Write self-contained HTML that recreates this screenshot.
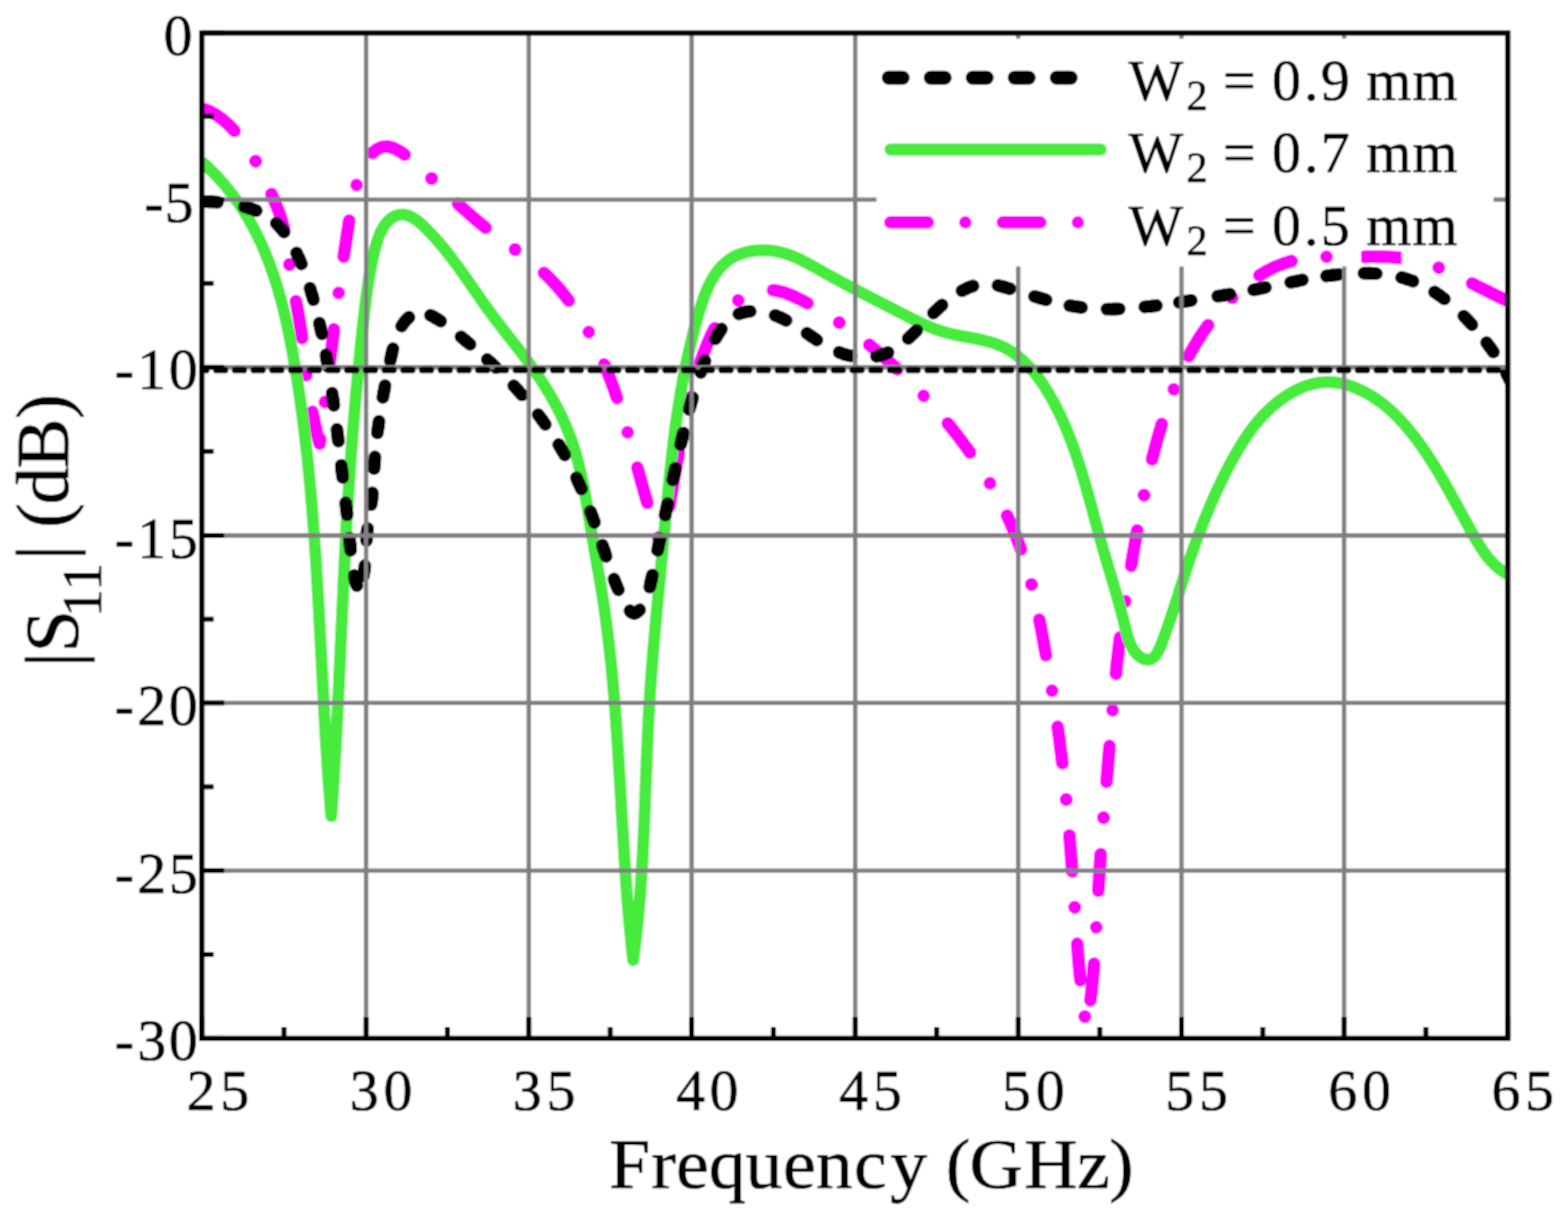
<!DOCTYPE html>
<html lang="en"><head><meta charset="utf-8"><title>|S11| versus frequency for different W2</title>
<style>html,body,main,figure{margin:0;padding:0;background:#fff;}html,body{overflow:hidden;width:1566px;height:1218px;}svg{display:block;}text{font-family:'Liberation Serif', serif;fill:#000;stroke:#000;stroke-width:0.6px;stroke-linejoin:round;text-rendering:geometricPrecision;}</style></head><body>
<main><figure>
<svg width="1566" height="1218" viewBox="0 0 1566 1218" role="img" aria-label="Simulated |S11| in dB versus frequency in GHz for W2 = 0.9, 0.7 and 0.5 mm">
<rect width="1566" height="1218" fill="#fff"/>
<filter id="soft" x="0" y="0" width="1566" height="1218" filterUnits="userSpaceOnUse"><feConvolveMatrix order="3" kernelMatrix="1 2 1 2 4 2 1 2 1" divisor="16" edgeMode="duplicate" preserveAlpha="true"/></filter>
<g filter="url(#soft)">
<rect width="1566" height="1218" fill="#fff"/>
<clipPath id="pc"><rect x="201.8" y="33.0" width="1306.0" height="1005.4"/></clipPath>
<g clip-path="url(#pc)" fill="none" stroke-linecap="round" stroke-linejoin="round">
<path d="M255.6 161.1 L254.6 159.4 L253.6 157.7 L252.6 155.9 L251.5 154.2 L250.5 152.5 L249.4 150.8 L248.4 149.2 L247.3 147.5 L246.1 145.8 L245.0 144.2 L243.9 142.6 L242.7 141.0 L241.5 139.4 L240.3 137.8 L239.0 136.2 L237.8 134.7 L236.5 133.2 L235.2 131.7 L233.8 130.2 L232.5 128.7 L231.1 127.3 L229.7 125.8 L228.2 124.4 L226.8 123.1 L225.3 121.8 L223.7 120.5 L222.2 119.2 L220.6 118.0 L219.0 116.8 L217.4 115.7 L215.7 114.6 L214.0 113.6 L212.3 112.7 L210.5 111.7 L208.8 110.9 L206.9 110.1 L205.1 109.4 L203.2 108.7" stroke="#ff00ff" stroke-width="12.9" stroke-dasharray="0.01 36.99 37.00 36.99" stroke-dashoffset="0.00"/>
<path d="M255.6 161.1 L256.5 162.9 L257.5 164.7 L258.4 166.4 L259.3 168.2 L260.2 170.0 L261.1 171.8 L262.0 173.6 L262.9 175.4 L263.8 177.2 L264.7 179.0 L265.5 180.8 L266.4 182.6 L267.2 184.5 L268.0 186.3 L268.8 188.1 L269.7 190.0 L270.5 191.8 L271.3 193.6 L272.1 195.5 L272.9 197.3 L273.7 199.1 L274.5 201.0 L275.2 202.8 L276.0 204.7 L276.8 206.5 L277.5 208.4 L278.2 210.2 L278.9 212.1 L279.6 214.0 L280.2 215.8 L280.9 217.7 L281.5 219.6 L282.1 221.5 L282.6 223.4 L283.2 225.3 L283.7 227.2 L284.1 229.1 L284.6 231.0 L285.0 233.0 L285.3 234.9 L285.7 236.8 L286.0 238.8 L286.3 240.8 L286.6 242.7 L286.9 244.7 L287.2 246.7 L287.4 248.6 L287.7 250.6 L287.9 252.6 L288.2 254.6 L288.4 256.6 L288.7 258.5 L288.9 260.5 L289.2 262.5 L289.5 264.5" stroke="#ff00ff" stroke-width="12.9" stroke-dasharray="0.01 36.56 36.56 36.56" stroke-dashoffset="0.00"/>
<path d="M289.5 264.5 L289.7 266.5 L290.0 268.4 L290.3 270.4 L290.7 272.4 L291.0 274.4 L291.3 276.3 L291.7 278.3 L292.0 280.3 L292.4 282.2 L292.7 284.2 L293.1 286.2 L293.5 288.1 L293.9 290.1 L294.2 292.0 L294.6 294.0 L295.0 296.0 L295.4 297.9 L295.7 299.9 L296.1 301.9 L296.5 303.8 L296.8 305.8 L297.2 307.7 L297.6 309.7 L297.9 311.7 L298.3 313.6 L298.6 315.6 L299.0 317.6 L299.3 319.5 L299.6 321.5 L300.0 323.5 L300.3 325.4 L300.6 327.4 L300.9 329.4 L301.2 331.3 L301.5 333.3 L301.8 335.3 L302.0 337.3 L302.3 339.2 L302.5 341.2 L302.8 343.2 L303.0 345.2 L303.2 347.2 L303.5 349.2 L303.7 351.1 L303.9 353.1 L304.1 355.1 L304.3 357.1 L304.5 359.1 L304.7 361.1 L305.0 363.1 L305.2 365.0 L305.4 367.0 L305.6 369.0 L305.8 371.0 L306.1 373.0 L306.3 374.9" stroke="#ff00ff" stroke-width="12.9" stroke-dasharray="0.01 37.27 37.27 37.27" stroke-dashoffset="0.00"/>
<path d="M306.3 375.0 L306.6 376.9 L306.8 378.9 L307.1 380.9 L307.4 382.9 L307.6 384.9 L307.9 386.8 L308.2 388.8 L308.5 390.8 L308.8 392.8 L309.2 394.7 L309.5 396.7 L309.8 398.7 L310.2 400.6 L310.5 402.6 L310.9 404.6 L311.2 406.5 L311.6 408.5 L312.0 410.4 L312.4 412.4 L312.8 414.3 L313.2 416.3 L313.6 418.3 L314.0 420.2 L314.4 422.2 L314.9 424.1 L315.3 426.0 L315.7 428.0 L316.2 429.9 L316.7 431.9 L317.1 433.8 L317.6 435.8 L318.1 437.7 L318.6 439.6 L319.1 441.6 L319.6 443.5 L319.9 441.5 L320.1 439.6 L320.4 437.6 L320.6 435.6 L320.9 433.6 L321.1 431.7 L321.4 429.7 L321.6 427.7 L321.9 425.7 L322.2 423.7 L322.4 421.8 L322.7 419.8 L322.9 417.8 L323.2 415.8 L323.4 413.9 L323.7 411.9 L323.9 409.9 L324.2 407.9 L324.4 405.9 L324.6 404.0 L324.9 402.0" stroke="#ff00ff" stroke-width="12.9" stroke-dasharray="0.01 37.23 37.24 37.23" stroke-dashoffset="0.00"/>
<path d="M324.9 402.0 L325.1 400.0 L325.4 398.0 L325.6 396.0 L325.9 394.1 L326.1 392.1 L326.4 390.1 L326.6 388.1 L326.9 386.1 L327.1 384.1 L327.4 382.2 L327.6 380.2 L327.8 378.2 L328.1 376.2 L328.3 374.2 L328.6 372.2 L328.8 370.3 L329.1 368.3 L329.3 366.3 L329.6 364.3 L329.8 362.3 L330.0 360.3 L330.3 358.4 L330.5 356.4 L330.8 354.4 L331.0 352.4 L331.3 350.4 L331.5 348.4 L331.8 346.5 L332.0 344.5 L332.3 342.5 L332.5 340.5 L332.8 338.5 L333.0 336.5 L333.3 334.6 L333.5 332.6 L333.8 330.6 L334.0 328.6 L334.3 326.6 L334.5 324.6 L334.8 322.7 L335.0 320.7 L335.3 318.7 L335.5 316.7 L335.8 314.7 L336.0 312.8 L336.3 310.8 L336.6 308.8 L336.8 306.8 L337.1 304.8 L337.3 302.8 L337.6 300.9 L337.8 298.9 L338.1 296.9 L338.4 294.9 L338.6 293.0" stroke="#ff00ff" stroke-width="12.9" stroke-dasharray="0.01 36.63 36.63 36.63" stroke-dashoffset="0.00"/>
<path d="M338.6 292.9 L338.9 291.0 L339.2 289.0 L339.4 287.0 L339.7 285.0 L340.0 283.1 L340.2 281.1 L340.5 279.1 L340.8 277.1 L341.1 275.1 L341.3 273.2 L341.6 271.2 L341.9 269.2 L342.2 267.2 L342.4 265.3 L342.7 263.3 L343.0 261.3 L343.3 259.4 L343.6 257.4 L343.8 255.4 L344.1 253.4 L344.4 251.5 L344.7 249.5 L345.0 247.5 L345.3 245.6 L345.6 243.6 L345.9 241.6 L346.2 239.7 L346.5 237.7 L346.8 235.7 L347.1 233.8 L347.4 231.8 L347.7 229.8 L348.0 227.9 L348.3 225.9 L348.6 223.9 L348.9 222.0 L349.2 220.0 L349.6 218.1 L349.9 216.1 L350.2 214.1 L350.5 212.2 L350.9 210.2 L351.2 208.3 L351.6 206.3 L351.9 204.4 L352.3 202.4 L352.7 200.5 L353.1 198.5 L353.6 196.6 L354.0 194.6 L354.5 192.7 L355.0 190.8 L355.5 188.8 L356.0 186.9 L356.6 185.0" stroke="#ff00ff" stroke-width="12.9" stroke-dasharray="0.01 36.51 36.51 36.51" stroke-dashoffset="0.00"/>
<path d="M356.6 185.0 L357.2 183.0 L357.8 181.1 L358.4 179.2 L359.1 177.3 L359.8 175.4 L360.6 173.5 L361.4 171.6 L362.2 169.7 L363.0 167.8 L363.9 165.9 L364.9 164.0 L365.8 162.1 L366.9 160.3 L368.0 158.6 L369.2 156.9 L370.4 155.2 L371.7 153.7 L373.1 152.3 L374.6 151.0 L376.2 149.8 L377.8 148.8 L379.5 148.0 L381.2 147.3 L382.9 146.8 L384.7 146.6 L386.5 146.5 L388.3 146.7 L390.1 147.0 L392.0 147.6 L393.8 148.2 L395.6 149.0 L397.4 149.9 L399.2 151.0 L400.9 152.0 L402.7 153.2 L404.4 154.4 L406.1 155.6 L407.7 156.8 L409.4 158.1 L411.0 159.3 L412.5 160.6 L414.1 161.9 L415.6 163.3 L417.1 164.6 L418.6 165.9 L420.1 167.3 L421.6 168.7 L423.0 170.0 L424.5 171.4 L425.9 172.8 L427.4 174.2 L428.8 175.6 L430.2 177.0 L431.6 178.4" stroke="#ff00ff" stroke-width="12.9" stroke-dasharray="0.01 36.02 36.02 36.02" stroke-dashoffset="0.00"/>
<path d="M431.6 178.4 L433.0 179.8 L434.4 181.2 L435.9 182.6 L437.3 184.0 L438.7 185.4 L440.1 186.8 L441.5 188.2 L443.0 189.5 L444.4 190.9 L445.8 192.3 L447.2 193.7 L448.7 195.1 L450.1 196.4 L451.6 197.8 L453.0 199.2 L454.4 200.5 L455.9 201.9 L457.4 203.2 L458.8 204.6 L460.3 205.9 L461.7 207.2 L463.2 208.6 L464.7 209.9 L466.2 211.2 L467.7 212.5 L469.2 213.9 L470.7 215.2 L472.2 216.5 L473.7 217.8 L475.2 219.0 L476.7 220.3 L478.2 221.6 L479.8 222.9 L481.3 224.1 L482.9 225.4 L484.4 226.6 L486.0 227.9 L487.6 229.1 L489.2 230.3 L490.8 231.6 L492.4 232.8 L494.0 234.0 L495.6 235.2 L497.2 236.4 L498.8 237.6 L500.4 238.8 L502.1 240.0 L503.7 241.2 L505.3 242.3 L506.9 243.5 L508.6 244.7 L510.2 245.9 L511.8 247.1 L513.5 248.3 L515.1 249.5" stroke="#ff00ff" stroke-width="12.9" stroke-dasharray="0.01 36.59 36.60 36.59" stroke-dashoffset="0.00"/>
<path d="M515.1 249.5 L516.7 250.7 L518.3 251.9 L519.9 253.1 L521.5 254.3 L523.1 255.5 L524.7 256.7 L526.3 258.0 L527.9 259.2 L529.5 260.5 L531.0 261.7 L532.6 263.0 L534.1 264.2 L535.7 265.5 L537.2 266.8 L538.7 268.1 L540.2 269.4 L541.7 270.8 L543.1 272.1 L544.6 273.5 L546.0 274.8 L547.5 276.2 L548.9 277.6 L550.3 279.0 L551.6 280.5 L553.0 281.9 L554.4 283.4 L555.7 284.8 L557.0 286.3 L558.3 287.8 L559.6 289.3 L560.9 290.8 L562.2 292.3 L563.4 293.9 L564.7 295.4 L565.9 297.0 L567.1 298.5 L568.3 300.1 L569.5 301.7 L570.7 303.3 L571.8 304.9 L573.0 306.6 L574.1 308.2 L575.2 309.8 L576.4 311.5 L577.5 313.2 L578.5 314.8 L579.6 316.5 L580.7 318.2 L581.7 319.9 L582.8 321.6 L583.8 323.3 L584.8 325.0 L585.8 326.8 L586.8 328.5 L587.8 330.2 L588.7 332.0" stroke="#ff00ff" stroke-width="12.9" stroke-dasharray="0.01 37.21 37.22 37.21" stroke-dashoffset="0.00"/>
<path d="M588.7 332.0 L589.7 333.7 L590.6 335.5 L591.6 337.3 L592.5 339.0 L593.4 340.8 L594.3 342.6 L595.2 344.4 L596.1 346.2 L597.0 348.0 L597.8 349.8 L598.7 351.6 L599.5 353.4 L600.3 355.3 L601.2 357.1 L602.0 358.9 L602.8 360.8 L603.6 362.6 L604.3 364.4 L605.1 366.3 L605.9 368.1 L606.6 370.0 L607.4 371.8 L608.1 373.7 L608.8 375.5 L609.6 377.4 L610.3 379.3 L611.0 381.1 L611.7 383.0 L612.4 384.9 L613.0 386.7 L613.7 388.6 L614.4 390.5 L615.0 392.4 L615.7 394.3 L616.3 396.2 L617.0 398.0 L617.6 399.9 L618.2 401.8 L618.8 403.7 L619.5 405.6 L620.1 407.5 L620.7 409.4 L621.3 411.3 L621.9 413.2 L622.5 415.1 L623.0 417.0 L623.6 419.0 L624.2 420.9 L624.8 422.8 L625.3 424.7 L625.9 426.6 L626.5 428.5 L627.0 430.4 L627.6 432.3" stroke="#ff00ff" stroke-width="12.9" stroke-dasharray="0.01 35.94 35.95 35.94" stroke-dashoffset="0.00"/>
<path d="M627.6 432.3 L628.1 434.3 L628.7 436.2 L629.2 438.1 L629.8 440.0 L630.3 442.0 L630.8 443.9 L631.4 445.8 L631.9 447.7 L632.5 449.6 L633.0 451.6 L633.5 453.5 L634.0 455.4 L634.6 457.3 L635.1 459.3 L635.6 461.2 L636.2 463.1 L636.7 465.1 L637.2 467.0 L637.7 468.9 L638.3 470.8 L638.8 472.8 L639.3 474.7 L639.9 476.6 L640.4 478.5 L640.9 480.5 L641.5 482.4 L642.0 484.3 L642.5 486.2 L643.1 488.2 L643.6 490.1 L644.2 492.0 L644.7 493.9 L645.3 495.8 L645.8 497.8 L646.4 499.7 L646.9 501.6 L647.5 503.5 L648.1 505.4 L648.6 507.3 L649.2 509.3 L649.8 511.2 L650.4 513.1 L651.0 515.0 L651.5 516.9 L652.1 518.8 L652.7 520.7 L653.4 522.6 L654.0 524.5 L654.6 526.4 L655.2 528.3 L655.8 530.2 L656.5 532.1 L657.1 534.0 L657.8 535.9 L658.4 537.7" stroke="#ff00ff" stroke-width="12.9" stroke-dasharray="0.01 36.61 36.61 36.61" stroke-dashoffset="0.00"/>
<path d="M658.4 537.7 L659.1 539.6 L659.7 541.5 L660.4 543.4 L661.1 545.3 L661.8 547.1 L662.5 549.0 L662.8 547.0 L663.1 545.1 L663.4 543.1 L663.7 541.1 L664.1 539.1 L664.4 537.2 L664.7 535.2 L665.0 533.2 L665.3 531.3 L665.6 529.3 L665.9 527.3 L666.3 525.3 L666.6 523.4 L666.9 521.4 L667.2 519.4 L667.5 517.4 L667.9 515.5 L668.2 513.5 L668.5 511.5 L668.8 509.5 L669.1 507.6 L669.5 505.6 L669.8 503.6 L670.1 501.6 L670.4 499.7 L670.8 497.7 L671.1 495.7 L671.4 493.7 L671.8 491.8 L672.1 489.8 L672.4 487.8 L672.8 485.9 L673.1 483.9 L673.5 481.9 L673.8 479.9 L674.1 478.0 L674.5 476.0 L674.8 474.0 L675.2 472.1 L675.5 470.1 L675.9 468.1 L676.2 466.1 L676.6 464.2 L676.9 462.2 L677.3 460.2 L677.7 458.3 L678.0 456.3 L678.4 454.3 L678.7 452.4 L679.1 450.4 L679.5 448.4 L679.9 446.5 L680.2 444.5 L680.6 442.5 L681.0 440.6 L681.4 438.6 L681.8 436.7 L682.1 434.7 L682.5 432.7 L682.9 430.8 L683.3 428.8 L683.7 426.9 L684.1 424.9 L684.5 423.0 L684.9 421.0 L685.3 419.0 L685.8 417.1 L686.2 415.1 L686.6 413.2 L687.0 411.2 L687.5 409.3 L687.9 407.3 L688.3 405.4 L688.8 403.5 L689.3 401.5 L689.7 399.6 L690.2 397.7" stroke="#ff00ff" stroke-width="12.9" stroke-dasharray="0.01 55.29 55.30 55.29" stroke-dashoffset="0.00"/>
<path d="M690.2 397.6 L690.7 395.7 L691.2 393.8 L691.6 391.8 L692.1 389.9 L692.7 388.0 L693.2 386.1 L693.7 384.1 L694.2 382.2 L694.8 380.3 L695.3 378.4 L695.9 376.5 L696.5 374.6 L697.0 372.7 L697.6 370.7 L698.2 368.8 L698.8 366.9 L699.5 365.0 L700.1 363.2 L700.7 361.3 L701.4 359.4 L702.1 357.5 L702.7 355.6 L703.4 353.7 L704.1 351.9 L704.9 350.0 L705.6 348.1 L706.3 346.3 L707.1 344.4 L707.9 342.5 L708.7 340.7 L709.5 338.8 L710.3 337.0 L711.1 335.2 L712.0 333.4 L712.9 331.6 L713.8 329.8 L714.8 328.0 L715.8 326.2 L716.8 324.5 L717.8 322.8 L718.9 321.1 L720.0 319.4 L721.2 317.7 L722.3 316.1 L723.6 314.5 L724.9 312.9 L726.2 311.4 L727.6 309.8 L729.0 308.4 L730.4 306.9 L731.9 305.5 L733.4 304.1 L735.0 302.8 L736.6 301.5 L738.2 300.3" stroke="#ff00ff" stroke-width="12.9" stroke-dasharray="0.01 36.88 36.88 36.88" stroke-dashoffset="0.00"/>
<path d="M738.2 300.3 L739.9 299.1 L741.6 298.0 L743.3 296.9 L745.1 296.0 L746.8 295.0 L748.6 294.2 L750.5 293.4 L752.3 292.7 L754.1 292.0 L756.0 291.5 L757.9 291.0 L759.8 290.6 L761.6 290.3 L763.5 290.1 L765.4 289.9 L767.3 289.8 L769.2 289.9 L771.1 290.0 L773.0 290.1 L774.9 290.4 L776.8 290.7 L778.7 291.1 L780.6 291.5 L782.4 292.1 L784.3 292.6 L786.2 293.2 L788.0 293.9 L789.9 294.6 L791.7 295.4 L793.6 296.2 L795.4 297.0 L797.2 297.9 L799.1 298.8 L800.9 299.7 L802.7 300.6 L804.5 301.6 L806.3 302.6 L808.1 303.5 L809.9 304.5 L811.7 305.5 L813.4 306.5 L815.2 307.5 L817.0 308.6 L818.7 309.6 L820.4 310.6 L822.2 311.7 L823.9 312.7 L825.6 313.8 L827.4 314.9 L829.1 315.9 L830.8 317.0 L832.5 318.1 L834.2 319.2 L835.8 320.3 L837.5 321.4 L839.2 322.5" stroke="#ff00ff" stroke-width="12.9" stroke-dasharray="0.01 37.12 37.12 37.12" stroke-dashoffset="0.00"/>
<path d="M839.2 322.6 L840.9 323.7 L842.5 324.8 L844.2 326.0 L845.8 327.1 L847.5 328.3 L849.1 329.4 L850.7 330.6 L852.3 331.8 L854.0 333.0 L855.6 334.2 L857.2 335.4 L858.8 336.6 L860.4 337.8 L862.0 339.0 L863.5 340.2 L865.1 341.5 L866.7 342.7 L868.2 344.0 L869.8 345.2 L871.3 346.5 L872.9 347.8 L874.4 349.0 L876.0 350.3 L877.5 351.6 L879.0 352.9 L880.5 354.2 L882.0 355.5 L883.5 356.8 L885.0 358.1 L886.5 359.4 L888.0 360.8 L889.5 362.1 L891.0 363.4 L892.5 364.8 L893.9 366.1 L895.4 367.5 L896.9 368.9 L898.3 370.2 L899.8 371.6 L901.2 373.0 L902.6 374.4 L904.1 375.8 L905.5 377.2 L906.9 378.6 L908.3 380.0 L909.7 381.4 L911.2 382.8 L912.6 384.2 L914.0 385.6 L915.4 387.1 L916.7 388.5 L918.1 390.0 L919.5 391.4 L920.9 392.9 L922.3 394.3 L923.6 395.8" stroke="#ff00ff" stroke-width="12.9" stroke-dasharray="0.01 37.33 37.33 37.33" stroke-dashoffset="0.00"/>
<path d="M923.6 395.8 L925.0 397.2 L926.3 398.7 L927.7 400.2 L929.0 401.7 L930.4 403.2 L931.7 404.6 L933.1 406.1 L934.4 407.6 L935.7 409.1 L937.0 410.6 L938.3 412.2 L939.6 413.7 L940.9 415.2 L942.2 416.7 L943.5 418.3 L944.8 419.8 L946.1 421.3 L947.4 422.9 L948.6 424.4 L949.9 426.0 L951.2 427.5 L952.4 429.1 L953.7 430.7 L954.9 432.2 L956.1 433.8 L957.4 435.4 L958.6 437.0 L959.8 438.6 L961.0 440.2 L962.2 441.8 L963.4 443.4 L964.6 445.0 L965.8 446.6 L966.9 448.2 L968.1 449.8 L969.3 451.5 L970.4 453.1 L971.6 454.7 L972.7 456.4 L973.8 458.0 L975.0 459.7 L976.1 461.3 L977.2 463.0 L978.3 464.7 L979.4 466.3 L980.5 468.0 L981.5 469.7 L982.6 471.4 L983.7 473.0 L984.7 474.7 L985.8 476.4 L986.8 478.1 L987.9 479.8 L988.9 481.5 L989.9 483.2" stroke="#ff00ff" stroke-width="12.9" stroke-dasharray="0.01 36.65 36.66 36.65" stroke-dashoffset="0.00"/>
<path d="M989.9 483.3 L990.9 485.0 L991.9 486.7 L992.9 488.4 L993.9 490.2 L994.9 491.9 L995.8 493.6 L996.8 495.4 L997.7 497.1 L998.7 498.9 L999.6 500.7 L1000.5 502.4 L1001.4 504.2 L1002.3 506.0 L1003.2 507.7 L1004.1 509.5 L1005.0 511.3 L1005.8 513.1 L1006.7 514.9 L1007.5 516.7 L1008.4 518.5 L1009.2 520.3 L1010.0 522.1 L1010.8 523.9 L1011.6 525.8 L1012.4 527.6 L1013.2 529.4 L1014.0 531.3 L1014.7 533.1 L1015.5 534.9 L1016.2 536.8 L1016.9 538.7 L1017.7 540.5 L1018.4 542.4 L1019.1 544.2 L1019.8 546.1 L1020.4 548.0 L1021.1 549.9 L1021.7 551.8 L1022.4 553.6 L1023.0 555.5 L1023.6 557.4 L1024.3 559.3 L1024.9 561.2 L1025.5 563.2 L1026.0 565.1 L1026.6 567.0 L1027.2 568.9 L1027.7 570.8 L1028.3 572.8 L1028.8 574.7 L1029.4 576.6 L1029.9 578.6 L1030.4 580.5 L1030.9 582.4 L1031.4 584.4" stroke="#ff00ff" stroke-width="12.9" stroke-dasharray="0.01 36.56 36.57 36.56" stroke-dashoffset="0.00"/>
<path d="M1031.4 584.4 L1031.9 586.3 L1032.4 588.3 L1032.9 590.2 L1033.3 592.2 L1033.8 594.1 L1034.3 596.1 L1034.7 598.1 L1035.2 600.0 L1035.6 602.0 L1036.0 604.0 L1036.5 605.9 L1036.9 607.9 L1037.3 609.9 L1037.7 611.8 L1038.1 613.8 L1038.5 615.8 L1038.9 617.8 L1039.3 619.7 L1039.7 621.7 L1040.1 623.7 L1040.5 625.7 L1040.9 627.6 L1041.3 629.6 L1041.6 631.6 L1042.0 633.6 L1042.4 635.6 L1042.7 637.5 L1043.1 639.5 L1043.5 641.5 L1043.8 643.5 L1044.2 645.5 L1044.5 647.4 L1044.9 649.4 L1045.2 651.4 L1045.6 653.4 L1045.9 655.3 L1046.3 657.3 L1046.6 659.3 L1047.0 661.2 L1047.3 663.2 L1047.7 665.2 L1048.0 667.2 L1048.4 669.1 L1048.7 671.1 L1049.0 673.1 L1049.4 675.0 L1049.7 677.0 L1050.1 679.0 L1050.4 680.9 L1050.7 682.9 L1051.1 684.9 L1051.4 686.8 L1051.7 688.8 L1052.0 690.7" stroke="#ff00ff" stroke-width="12.9" stroke-dasharray="0.01 36.12 36.13 36.12" stroke-dashoffset="0.00"/>
<path d="M1052.0 690.7 L1052.4 692.7 L1052.7 694.7 L1053.0 696.6 L1053.3 698.6 L1053.6 700.6 L1053.9 702.5 L1054.3 704.5 L1054.6 706.5 L1054.9 708.4 L1055.2 710.4 L1055.5 712.4 L1055.8 714.3 L1056.1 716.3 L1056.4 718.3 L1056.7 720.2 L1056.9 722.2 L1057.2 724.2 L1057.5 726.1 L1057.8 728.1 L1058.1 730.1 L1058.4 732.0 L1058.6 734.0 L1058.9 736.0 L1059.2 738.0 L1059.4 739.9 L1059.7 741.9 L1059.9 743.9 L1060.2 745.9 L1060.4 747.9 L1060.7 749.8 L1060.9 751.8 L1061.2 753.8 L1061.4 755.8 L1061.7 757.8 L1061.9 759.7 L1062.1 761.7 L1062.4 763.7 L1062.6 765.7 L1062.8 767.7 L1063.1 769.7 L1063.3 771.6 L1063.5 773.6 L1063.7 775.6 L1063.9 777.6 L1064.2 779.6 L1064.4 781.6 L1064.6 783.6 L1064.8 785.6 L1065.0 787.5 L1065.2 789.5 L1065.4 791.5 L1065.6 793.5 L1065.8 795.5 L1066.0 797.5 L1066.2 799.5" stroke="#ff00ff" stroke-width="12.9" stroke-dasharray="0.01 36.56 36.56 36.56" stroke-dashoffset="0.00"/>
<path d="M1066.2 799.5 L1066.4 801.5 L1066.6 803.5 L1066.8 805.5 L1067.0 807.5 L1067.1 809.5 L1067.3 811.4 L1067.5 813.4 L1067.7 815.4 L1067.9 817.4 L1068.1 819.4 L1068.2 821.4 L1068.4 823.4 L1068.6 825.4 L1068.7 827.4 L1068.9 829.4 L1069.1 831.4 L1069.3 833.4 L1069.4 835.4 L1069.6 837.4 L1069.7 839.4 L1069.9 841.4 L1070.1 843.4 L1070.2 845.4 L1070.4 847.4 L1070.5 849.4 L1070.7 851.4 L1070.9 853.4 L1071.0 855.4 L1071.2 857.4 L1071.3 859.4 L1071.5 861.4 L1071.6 863.4 L1071.8 865.4 L1071.9 867.4 L1072.1 869.4 L1072.2 871.4 L1072.3 873.4 L1072.5 875.4 L1072.6 877.3 L1072.8 879.3 L1072.9 881.3 L1073.1 883.3 L1073.2 885.3 L1073.3 887.3 L1073.5 889.3 L1073.6 891.3 L1073.7 893.3 L1073.9 895.3 L1074.0 897.3 L1074.2 899.3 L1074.3 901.3 L1074.4 903.3 L1074.6 905.3 L1074.7 907.3" stroke="#ff00ff" stroke-width="12.9" stroke-dasharray="0.01 36.04 36.05 36.04" stroke-dashoffset="0.00"/>
<path d="M1074.7 907.3 L1074.8 909.3 L1075.0 911.3 L1075.1 913.3 L1075.2 915.3 L1075.4 917.3 L1075.5 919.3 L1075.6 921.3 L1075.8 923.2 L1075.9 925.2 L1076.0 927.2 L1076.2 929.2 L1076.3 931.2 L1076.4 933.2 L1076.6 935.2 L1076.7 937.2 L1076.9 939.2 L1077.0 941.2 L1077.2 943.2 L1077.3 945.1 L1077.5 947.1 L1077.6 949.1 L1077.8 951.1 L1077.9 953.1 L1078.1 955.1 L1078.2 957.1 L1078.4 959.1 L1078.6 961.1 L1078.7 963.0 L1078.9 965.0 L1079.1 967.0 L1079.3 969.0 L1079.4 971.0 L1079.6 973.0 L1079.8 975.0 L1080.0 976.9 L1080.2 978.9 L1080.4 980.9 L1080.6 982.9 L1080.8 984.9 L1081.0 986.9 L1081.3 988.9 L1081.5 990.8 L1081.7 992.8 L1081.9 994.8 L1082.2 996.8 L1082.4 998.8 L1082.7 1000.7 L1082.9 1002.7 L1083.2 1004.7 L1083.4 1006.7 L1083.7 1008.7 L1084.0 1010.7 L1084.3 1012.6 L1084.5 1014.6 L1084.8 1016.6" stroke="#ff00ff" stroke-width="12.9" stroke-dasharray="0.01 36.60 36.60 36.60" stroke-dashoffset="0.00"/>
<path d="M1084.8 1016.6 L1085.1 1018.6 L1085.4 1020.6 L1085.8 1022.5 L1086.1 1024.5 L1086.4 1026.5 L1086.7 1024.5 L1087.1 1022.6 L1087.4 1020.6 L1087.7 1018.6 L1088.1 1016.6 L1088.4 1014.7 L1088.7 1012.7 L1089.0 1010.7 L1089.2 1008.7 L1089.5 1006.8 L1089.8 1004.8 L1090.0 1002.8 L1090.3 1000.8 L1090.5 998.9 L1090.8 996.9 L1091.0 994.9 L1091.3 992.9 L1091.5 990.9 L1091.7 988.9 L1091.9 987.0 L1092.1 985.0 L1092.3 983.0 L1092.5 981.0 L1092.7 979.0 L1092.9 977.0 L1093.1 975.1 L1093.2 973.1 L1093.4 971.1 L1093.6 969.1 L1093.7 967.1 L1093.9 965.1 L1094.0 963.1 L1094.2 961.1 L1094.3 959.1 L1094.5 957.1 L1094.6 955.2 L1094.8 953.2 L1094.9 951.2 L1095.0 949.2 L1095.1 947.2 L1095.3 945.2 L1095.4 943.2 L1095.5 941.2 L1095.6 939.2 L1095.7 937.2 L1095.9 935.2 L1096.0 933.2 L1096.1 931.2 L1096.2 929.2 L1096.3 927.3" stroke="#ff00ff" stroke-width="12.9" stroke-dasharray="0.01 36.60 36.61 36.60" stroke-dashoffset="0.00"/>
<path d="M1096.3 927.3 L1096.4 925.3 L1096.5 923.3 L1096.6 921.3 L1096.7 919.3 L1096.8 917.3 L1096.9 915.3 L1097.1 913.3 L1097.2 911.3 L1097.3 909.3 L1097.4 907.3 L1097.5 905.3 L1097.6 903.3 L1097.7 901.3 L1097.8 899.3 L1097.9 897.3 L1098.0 895.3 L1098.1 893.3 L1098.3 891.3 L1098.4 889.3 L1098.5 887.4 L1098.6 885.4 L1098.7 883.4 L1098.9 881.4 L1099.0 879.4 L1099.1 877.4 L1099.2 875.4 L1099.4 873.4 L1099.5 871.4 L1099.6 869.4 L1099.8 867.4 L1099.9 865.4 L1100.0 863.4 L1100.2 861.4 L1100.3 859.4 L1100.5 857.5 L1100.6 855.5 L1100.7 853.5 L1100.9 851.5 L1101.0 849.5 L1101.2 847.5 L1101.3 845.5 L1101.5 843.5 L1101.6 841.5 L1101.8 839.5 L1101.9 837.5 L1102.1 835.5 L1102.2 833.6 L1102.4 831.6 L1102.6 829.6 L1102.7 827.6 L1102.9 825.6 L1103.0 823.6 L1103.2 821.6 L1103.4 819.6 L1103.5 817.6" stroke="#ff00ff" stroke-width="12.9" stroke-dasharray="0.01 36.62 36.62 36.62" stroke-dashoffset="0.00"/>
<path d="M1103.5 817.6 L1103.7 815.6 L1103.8 813.6 L1104.0 811.7 L1104.2 809.7 L1104.3 807.7 L1104.5 805.7 L1104.7 803.7 L1104.8 801.7 L1105.0 799.7 L1105.2 797.7 L1105.3 795.7 L1105.5 793.7 L1105.7 791.8 L1105.8 789.8 L1106.0 787.8 L1106.2 785.8 L1106.3 783.8 L1106.5 781.8 L1106.7 779.8 L1106.8 777.8 L1107.0 775.8 L1107.2 773.8 L1107.3 771.9 L1107.5 769.9 L1107.7 767.9 L1107.8 765.9 L1108.0 763.9 L1108.2 761.9 L1108.3 759.9 L1108.5 757.9 L1108.7 755.9 L1108.8 754.0 L1109.0 752.0 L1109.2 750.0 L1109.3 748.0 L1109.5 746.0 L1109.7 744.0 L1109.8 742.0 L1110.0 740.0 L1110.2 738.0 L1110.3 736.0 L1110.5 734.1 L1110.7 732.1 L1110.8 730.1 L1111.0 728.1 L1111.2 726.1 L1111.3 724.1 L1111.5 722.1 L1111.7 720.1 L1111.8 718.1 L1112.0 716.2 L1112.2 714.2 L1112.3 712.2 L1112.5 710.2" stroke="#ff00ff" stroke-width="12.9" stroke-dasharray="0.01 35.93 35.94 35.93" stroke-dashoffset="0.00"/>
<path d="M1112.5 710.2 L1112.7 708.2 L1112.8 706.2 L1113.0 704.2 L1113.2 702.2 L1113.4 700.3 L1113.5 698.3 L1113.7 696.3 L1113.9 694.3 L1114.1 692.3 L1114.3 690.3 L1114.4 688.3 L1114.6 686.3 L1114.8 684.4 L1115.0 682.4 L1115.2 680.4 L1115.4 678.4 L1115.6 676.4 L1115.8 674.4 L1116.0 672.4 L1116.2 670.5 L1116.4 668.5 L1116.6 666.5 L1116.8 664.5 L1117.0 662.5 L1117.2 660.5 L1117.5 658.6 L1117.7 656.6 L1117.9 654.6 L1118.1 652.6 L1118.4 650.6 L1118.6 648.6 L1118.8 646.7 L1119.1 644.7 L1119.3 642.7 L1119.6 640.7 L1119.8 638.7 L1120.1 636.7 L1120.3 634.8 L1120.6 632.8 L1120.9 630.8 L1121.1 628.8 L1121.4 626.9 L1121.7 624.9 L1122.0 622.9 L1122.3 620.9 L1122.5 618.9 L1122.8 617.0 L1123.1 615.0 L1123.4 613.0 L1123.7 611.0 L1124.0 609.1 L1124.3 607.1 L1124.6 605.1 L1124.9 603.1 L1125.2 601.2" stroke="#ff00ff" stroke-width="12.9" stroke-dasharray="0.01 36.60 36.60 36.60" stroke-dashoffset="0.00"/>
<path d="M1125.2 601.2 L1125.5 599.2 L1125.9 597.2 L1126.2 595.2 L1126.5 593.3 L1126.8 591.3 L1127.1 589.3 L1127.5 587.3 L1127.8 585.4 L1128.1 583.4 L1128.4 581.4 L1128.8 579.5 L1129.1 577.5 L1129.4 575.5 L1129.7 573.5 L1130.1 571.6 L1130.4 569.6 L1130.7 567.6 L1131.1 565.7 L1131.4 563.7 L1131.7 561.7 L1132.1 559.8 L1132.4 557.8 L1132.7 555.8 L1133.1 553.9 L1133.4 551.9 L1133.7 549.9 L1134.1 548.0 L1134.4 546.0 L1134.8 544.0 L1135.1 542.1 L1135.5 540.1 L1135.8 538.1 L1136.2 536.2 L1136.5 534.2 L1136.9 532.3 L1137.2 530.3 L1137.6 528.3 L1137.9 526.4 L1138.3 524.4 L1138.6 522.5 L1139.0 520.5 L1139.4 518.5 L1139.7 516.6 L1140.1 514.6 L1140.5 512.7 L1140.9 510.7 L1141.2 508.8 L1141.6 506.8 L1142.0 504.8 L1142.4 502.9 L1142.8 500.9 L1143.2 499.0 L1143.6 497.0 L1144.0 495.1" stroke="#ff00ff" stroke-width="12.9" stroke-dasharray="0.01 35.90 35.91 35.90" stroke-dashoffset="0.00"/>
<path d="M1144.0 495.1 L1144.4 493.1 L1144.8 491.2 L1145.2 489.2 L1145.6 487.3 L1146.0 485.3 L1146.5 483.4 L1146.9 481.4 L1147.3 479.5 L1147.8 477.5 L1148.2 475.6 L1148.6 473.7 L1149.1 471.7 L1149.5 469.8 L1150.0 467.8 L1150.4 465.9 L1150.9 464.0 L1151.4 462.0 L1151.9 460.1 L1152.3 458.1 L1152.8 456.2 L1153.3 454.3 L1153.8 452.3 L1154.3 450.4 L1154.8 448.5 L1155.3 446.5 L1155.8 444.6 L1156.4 442.7 L1156.9 440.7 L1157.4 438.8 L1158.0 436.9 L1158.5 435.0 L1159.1 433.0 L1159.6 431.1 L1160.2 429.2 L1160.8 427.3 L1161.3 425.3 L1161.9 423.4 L1162.5 421.5 L1163.1 419.6 L1163.7 417.7 L1164.3 415.7 L1164.9 413.8 L1165.5 411.9 L1166.2 410.0 L1166.8 408.1 L1167.5 406.2 L1168.1 404.3 L1168.8 402.4 L1169.5 400.5 L1170.1 398.6 L1170.8 396.8 L1171.5 394.9 L1172.2 393.0 L1173.0 391.1 L1173.7 389.3" stroke="#ff00ff" stroke-width="12.9" stroke-dasharray="0.01 36.68 36.68 36.68" stroke-dashoffset="0.00"/>
<path d="M1173.7 389.3 L1174.4 387.4 L1175.2 385.5 L1175.9 383.7 L1176.7 381.8 L1177.5 380.0 L1178.2 378.1 L1179.0 376.3 L1179.8 374.5 L1180.7 372.7 L1181.5 370.8 L1182.3 369.0 L1183.2 367.2 L1184.0 365.4 L1184.9 363.6 L1185.8 361.8 L1186.7 360.1 L1187.6 358.3 L1188.5 356.5 L1189.4 354.8 L1190.4 353.0 L1191.3 351.3 L1192.3 349.5 L1193.3 347.8 L1194.3 346.1 L1195.3 344.4 L1196.3 342.7 L1197.3 341.0 L1198.4 339.3 L1199.5 337.6 L1200.5 336.0 L1201.6 334.3 L1202.7 332.7 L1203.8 331.0 L1205.0 329.4 L1206.1 327.8 L1207.3 326.2 L1208.4 324.6 L1209.6 323.0 L1210.8 321.4 L1212.1 319.9 L1213.3 318.3 L1214.6 316.8 L1215.8 315.2 L1217.1 313.7 L1218.4 312.2 L1219.7 310.7 L1221.0 309.2 L1222.4 307.7 L1223.7 306.2 L1225.1 304.8 L1226.4 303.3 L1227.8 301.9 L1229.2 300.4 L1230.7 299.0 L1232.1 297.6" stroke="#ff00ff" stroke-width="12.9" stroke-dasharray="0.01 36.52 36.52 36.52" stroke-dashoffset="0.00"/>
<path d="M1232.1 297.6 L1233.5 296.2 L1235.0 294.8 L1236.5 293.4 L1238.0 292.0 L1239.4 290.7 L1241.0 289.3 L1242.5 288.0 L1244.0 286.7 L1245.6 285.4 L1247.2 284.1 L1248.7 282.9 L1250.3 281.6 L1252.0 280.4 L1253.6 279.2 L1255.2 278.1 L1256.9 276.9 L1258.6 275.8 L1260.3 274.8 L1262.0 273.7 L1263.7 272.7 L1265.4 271.7 L1267.2 270.7 L1268.9 269.8 L1270.7 268.9 L1272.5 268.1 L1274.3 267.2 L1276.1 266.4 L1278.0 265.6 L1279.8 264.9 L1281.7 264.2 L1283.5 263.5 L1285.4 262.9 L1287.3 262.3 L1289.2 261.7 L1291.1 261.1 L1293.0 260.6 L1294.9 260.1 L1296.9 259.7 L1298.8 259.3 L1300.7 258.9 L1302.7 258.6 L1304.6 258.3 L1306.6 258.0 L1308.6 257.7 L1310.5 257.5 L1312.5 257.4 L1314.5 257.2 L1316.5 257.1 L1318.5 257.0 L1320.5 256.9 L1322.5 256.9 L1324.4 256.8 L1326.4 256.8" stroke="#ff00ff" stroke-width="12.9" stroke-dasharray="0.01 35.29 35.29 35.29" stroke-dashoffset="0.00"/>
<path d="M1326.5 256.8 L1328.5 256.8 L1330.5 256.8 L1332.5 256.8 L1334.5 256.8 L1336.5 256.8 L1338.5 256.8 L1340.5 256.8 L1342.5 256.9 L1344.5 256.9 L1346.6 256.9 L1348.6 256.9 L1350.6 256.8 L1352.6 256.8 L1354.6 256.8 L1356.6 256.8 L1358.7 256.8 L1360.7 256.7 L1362.7 256.7 L1364.7 256.7 L1366.7 256.7 L1368.7 256.6 L1370.7 256.6 L1372.7 256.6 L1374.7 256.6 L1376.7 256.6 L1378.7 256.7 L1380.7 256.7 L1382.7 256.7 L1384.7 256.8 L1386.7 256.9 L1388.7 256.9 L1390.7 257.0 L1392.6 257.2 L1394.6 257.3 L1396.6 257.5 L1398.5 257.6 L1400.5 257.8 L1402.5 258.0 L1404.4 258.3 L1406.4 258.6 L1408.3 258.9 L1410.3 259.2 L1412.2 259.5 L1414.1 259.9 L1416.1 260.3 L1418.0 260.7 L1419.9 261.2 L1421.8 261.7 L1423.7 262.3 L1425.6 262.8 L1427.5 263.4 L1429.4 264.1 L1431.3 264.7 L1433.1 265.4 L1435.0 266.1 L1436.9 266.8 L1438.7 267.6" stroke="#ff00ff" stroke-width="12.9" stroke-dasharray="0.01 37.89 37.90 37.89" stroke-dashoffset="0.00"/>
<path d="M1438.7 267.6 L1440.6 268.3 L1442.5 269.1 L1444.3 269.9 L1446.1 270.7 L1448.0 271.6 L1449.8 272.4 L1451.7 273.3 L1453.5 274.1 L1455.3 275.0 L1457.1 275.9 L1458.9 276.8 L1460.8 277.7 L1462.6 278.6 L1464.4 279.5 L1466.2 280.4 L1468.0 281.4 L1469.8 282.3 L1471.6 283.2 L1473.4 284.1 L1475.2 285.0 L1476.9 285.9 L1478.7 286.8 L1480.5 287.6 L1482.3 288.5 L1484.1 289.4 L1485.9 290.3 L1487.6 291.2 L1489.4 292.0 L1491.2 292.9 L1493.0 293.8 L1494.7 294.7 L1496.5 295.6 L1498.3 296.4 L1500.0 297.3 L1501.8 298.2 L1503.6 299.1 L1505.4 300.0 L1507.1 300.9 L1508.9 301.9 L1510.7 302.8 L1512.4 303.7 L1514.2 304.7 L1516.0 305.6" stroke="#ff00ff" stroke-width="12.9" stroke-dasharray="0.01 36.99 37.00 36.99" stroke-dashoffset="0.00"/>
<rect x="1342" y="244" width="19" height="22" fill="#fff" stroke="none"/>
<rect x="1401.6" y="244" width="12" height="22" fill="#fff" stroke="none"/>
<path d="M203.2 163.0 L204.7 164.4 L206.3 165.8 L207.8 167.2 L209.3 168.6 L210.7 170.1 L212.2 171.5 L213.6 172.9 L215.1 174.4 L216.5 175.9 L217.9 177.3 L219.2 178.8 L220.6 180.3 L221.9 181.8 L223.3 183.4 L224.6 184.9 L225.8 186.4 L227.1 188.0 L228.4 189.5 L229.6 191.1 L230.8 192.6 L232.1 194.2 L233.3 195.8 L234.4 197.4 L235.6 199.0 L236.7 200.6 L237.9 202.2 L239.0 203.8 L240.1 205.5 L241.2 207.1 L242.3 208.8 L243.3 210.4 L244.4 212.1 L245.4 213.7 L246.4 215.4 L247.5 217.1 L248.4 218.8 L249.4 220.5 L250.4 222.2 L251.4 223.9 L252.3 225.6 L253.2 227.4 L254.1 229.1 L255.0 230.8 L255.9 232.6 L256.8 234.3 L257.7 236.1 L258.5 237.9 L259.4 239.6 L260.2 241.4 L261.0 243.2 L261.8 245.0 L262.6 246.8 L263.4 248.6 L264.2 250.4 L264.9 252.2 L265.7 254.0 L266.4 255.8 L267.1 257.7 L267.9 259.5 L268.6 261.3 L269.3 263.2 L270.0 265.0 L270.6 266.9 L271.3 268.7 L272.0 270.6 L272.6 272.5 L273.2 274.3 L273.9 276.2 L274.5 278.1 L275.1 280.0 L275.7 281.9 L276.3 283.8 L276.9 285.6 L277.5 287.5 L278.0 289.5 L278.6 291.4 L279.1 293.3 L279.7 295.2 L280.2 297.1 L280.7 299.0 L281.2 300.9 L281.8 302.9 L282.3 304.8 L282.8 306.7 L283.2 308.7 L283.7 310.6 L284.2 312.6 L284.7 314.5 L285.1 316.5 L285.6 318.4 L286.0 320.4 L286.5 322.3 L286.9 324.3 L287.3 326.2 L287.8 328.2 L288.2 330.2 L288.6 332.1 L289.0 334.1 L289.4 336.1 L289.8 338.0 L290.2 340.0 L290.6 342.0 L291.0 344.0 L291.3 345.9 L291.7 347.9 L292.1 349.9 L292.4 351.9 L292.8 353.8 L293.1 355.8 L293.5 357.8 L293.8 359.8 L294.2 361.8 L294.5 363.8 L294.9 365.7 L295.2 367.7 L295.5 369.7 L295.8 371.7 L296.2 373.7 L296.5 375.7 L296.8 377.7 L297.1 379.6 L297.4 381.6 L297.7 383.6 L298.0 385.6 L298.4 387.6 L298.7 389.6 L298.9 391.6 L299.2 393.6 L299.5 395.5 L299.8 397.5 L300.1 399.5 L300.4 401.5 L300.7 403.5 L300.9 405.5 L301.2 407.5 L301.5 409.5 L301.8 411.4 L302.0 413.4 L302.3 415.4 L302.6 417.4 L302.8 419.4 L303.1 421.4 L303.3 423.4 L303.6 425.4 L303.8 427.4 L304.1 429.4 L304.3 431.3 L304.6 433.3 L304.8 435.3 L305.0 437.3 L305.3 439.3 L305.5 441.3 L305.7 443.3 L305.9 445.3 L306.2 447.3 L306.4 449.3 L306.6 451.3 L306.8 453.3 L307.1 455.2 L307.3 457.2 L307.5 459.2 L307.7 461.2 L307.9 463.2 L308.1 465.2 L308.3 467.2 L308.5 469.2 L308.7 471.2 L308.9 473.2 L309.1 475.2 L309.3 477.2 L309.5 479.2 L309.7 481.2 L309.9 483.1 L310.0 485.1 L310.2 487.1 L310.4 489.1 L310.6 491.1 L310.8 493.1 L310.9 495.1 L311.1 497.1 L311.3 499.1 L311.5 501.1 L311.6 503.1 L311.8 505.1 L312.0 507.1 L312.1 509.1 L312.3 511.1 L312.5 513.1 L312.6 515.1 L312.8 517.0 L312.9 519.0 L313.1 521.0 L313.2 523.0 L313.4 525.0 L313.5 527.0 L313.7 529.0 L313.8 531.0 L314.0 533.0 L314.1 535.0 L314.3 537.0 L314.4 539.0 L314.6 541.0 L314.7 543.0 L314.8 545.0 L315.0 547.0 L315.1 549.0 L315.2 551.0 L315.4 553.0 L315.5 555.0 L315.6 557.0 L315.8 559.0 L315.9 561.0 L316.0 562.9 L316.2 564.9 L316.3 566.9 L316.4 568.9 L316.5 570.9 L316.7 572.9 L316.8 574.9 L316.9 576.9 L317.0 578.9 L317.2 580.9 L317.3 582.9 L317.4 584.9 L317.5 586.9 L317.6 588.9 L317.7 590.9 L317.9 592.9 L318.0 594.9 L318.1 596.9 L318.2 598.9 L318.3 600.9 L318.4 602.9 L318.5 604.9 L318.6 606.9 L318.8 608.9 L318.9 610.9 L319.0 612.9 L319.1 614.9 L319.2 616.8 L319.3 618.8 L319.4 620.8 L319.5 622.8 L319.6 624.8 L319.7 626.8 L319.8 628.8 L319.9 630.8 L320.0 632.8 L320.2 634.8 L320.3 636.8 L320.4 638.8 L320.5 640.8 L320.6 642.8 L320.7 644.8 L320.8 646.8 L320.9 648.8 L321.0 650.8 L321.1 652.8 L321.2 654.8 L321.3 656.8 L321.4 658.8 L321.5 660.8 L321.6 662.8 L321.7 664.7 L321.8 666.7 L321.9 668.7 L322.0 670.7 L322.1 672.7 L322.2 674.7 L322.3 676.7 L322.4 678.7 L322.5 680.7 L322.6 682.7 L322.7 684.7 L322.8 686.7 L322.9 688.7 L323.1 690.7 L323.2 692.7 L323.3 694.7 L323.4 696.7 L323.5 698.7 L323.6 700.7 L323.7 702.6 L323.8 704.6 L323.9 706.6 L324.0 708.6 L324.1 710.6 L324.2 712.6 L324.3 714.6 L324.5 716.6 L324.6 718.6 L324.7 720.6 L324.8 722.6 L324.9 724.6 L325.0 726.6 L325.1 728.6 L325.3 730.6 L325.4 732.5 L325.5 734.5 L325.6 736.5 L325.7 738.5 L325.8 740.5 L326.0 742.5 L326.1 744.5 L326.2 746.5 L326.3 748.5 L326.5 750.5 L326.6 752.5 L326.7 754.5 L326.8 756.4 L327.0 758.4 L327.1 760.4 L327.2 762.4 L327.3 764.4 L327.5 766.4 L327.6 768.4 L327.7 770.4 L327.9 772.4 L328.0 774.4 L328.2 776.3 L328.3 778.3 L328.4 780.3 L328.6 782.3 L328.7 784.3 L328.9 786.3 L329.0 788.3 L329.2 790.3 L329.3 792.3 L329.5 794.2 L329.6 796.2 L329.8 798.2 L329.9 800.2 L330.1 802.2 L330.2 804.2 L330.4 806.2 L330.5 808.2 L330.7 810.1 L330.9 812.1 L331.0 814.1 L331.2 816.1 L331.3 814.1 L331.5 812.1 L331.6 810.1 L331.8 808.1 L331.9 806.1 L332.1 804.1 L332.2 802.1 L332.3 800.1 L332.5 798.1 L332.6 796.1 L332.8 794.1 L332.9 792.1 L333.0 790.1 L333.2 788.1 L333.3 786.1 L333.4 784.1 L333.6 782.1 L333.7 780.1 L333.8 778.1 L333.9 776.1 L334.1 774.1 L334.2 772.1 L334.3 770.1 L334.4 768.1 L334.6 766.1 L334.7 764.1 L334.8 762.1 L334.9 760.1 L335.0 758.1 L335.1 756.1 L335.3 754.1 L335.4 752.1 L335.5 750.1 L335.6 748.1 L335.7 746.1 L335.8 744.2 L335.9 742.2 L336.0 740.2 L336.2 738.2 L336.3 736.2 L336.4 734.2 L336.5 732.2 L336.6 730.2 L336.7 728.2 L336.8 726.2 L336.9 724.2 L337.0 722.2 L337.1 720.2 L337.2 718.2 L337.3 716.2 L337.4 714.2 L337.5 712.3 L337.6 710.3 L337.7 708.3 L337.8 706.3 L337.9 704.3 L338.0 702.3 L338.1 700.3 L338.2 698.3 L338.3 696.3 L338.4 694.3 L338.5 692.3 L338.6 690.3 L338.7 688.3 L338.8 686.4 L338.9 684.4 L339.0 682.4 L339.1 680.4 L339.2 678.4 L339.2 676.4 L339.3 674.4 L339.4 672.4 L339.5 670.4 L339.6 668.4 L339.7 666.4 L339.8 664.5 L339.9 662.5 L340.0 660.5 L340.1 658.5 L340.2 656.5 L340.3 654.5 L340.3 652.5 L340.4 650.5 L340.5 648.5 L340.6 646.5 L340.7 644.5 L340.8 642.6 L340.9 640.6 L341.0 638.6 L341.1 636.6 L341.2 634.6 L341.2 632.6 L341.3 630.6 L341.4 628.6 L341.5 626.6 L341.6 624.6 L341.7 622.6 L341.8 620.6 L341.9 618.7 L342.0 616.7 L342.1 614.7 L342.1 612.7 L342.2 610.7 L342.3 608.7 L342.4 606.7 L342.5 604.7 L342.6 602.7 L342.7 600.7 L342.8 598.7 L342.9 596.7 L343.0 594.8 L343.1 592.8 L343.2 590.8 L343.3 588.8 L343.3 586.8 L343.4 584.8 L343.5 582.8 L343.6 580.8 L343.7 578.8 L343.8 576.8 L343.9 574.8 L344.0 572.8 L344.1 570.8 L344.2 568.8 L344.3 566.8 L344.4 564.9 L344.5 562.9 L344.6 560.9 L344.7 558.9 L344.8 556.9 L344.9 554.9 L345.0 552.9 L345.1 550.9 L345.2 548.9 L345.3 546.9 L345.4 544.9 L345.5 542.9 L345.6 540.9 L345.7 538.9 L345.9 536.9 L346.0 534.9 L346.1 532.9 L346.2 530.9 L346.3 528.9 L346.4 526.9 L346.5 524.9 L346.6 522.9 L346.7 520.9 L346.9 518.9 L347.0 516.9 L347.1 514.9 L347.2 512.9 L347.3 510.9 L347.4 508.9 L347.6 506.9 L347.7 504.9 L347.8 502.9 L347.9 500.9 L348.0 498.9 L348.2 496.9 L348.3 494.9 L348.4 492.9 L348.6 490.9 L348.7 488.9 L348.8 486.9 L348.9 484.9 L349.1 482.9 L349.2 480.9 L349.3 478.9 L349.5 476.9 L349.6 474.9 L349.7 472.9 L349.9 470.9 L350.0 468.9 L350.2 466.9 L350.3 464.8 L350.5 462.8 L350.6 460.8 L350.7 458.8 L350.9 456.8 L351.0 454.8 L351.2 452.8 L351.3 450.8 L351.5 448.8 L351.6 446.8 L351.8 444.8 L351.9 442.8 L352.1 440.8 L352.3 438.8 L352.4 436.8 L352.6 434.7 L352.7 432.7 L352.9 430.7 L353.1 428.7 L353.2 426.7 L353.4 424.7 L353.5 422.7 L353.7 420.7 L353.9 418.7 L354.0 416.7 L354.2 414.7 L354.4 412.7 L354.6 410.7 L354.7 408.7 L354.9 406.7 L355.1 404.7 L355.3 402.7 L355.4 400.7 L355.6 398.7 L355.8 396.7 L356.0 394.7 L356.1 392.7 L356.3 390.7 L356.5 388.7 L356.7 386.8 L356.9 384.8 L357.1 382.8 L357.3 380.8 L357.4 378.8 L357.6 376.8 L357.8 374.8 L358.0 372.8 L358.2 370.9 L358.4 368.9 L358.6 366.9 L358.8 364.9 L359.0 362.9 L359.2 361.0 L359.4 359.0 L359.6 357.0 L359.8 355.1 L360.0 353.1 L360.2 351.1 L360.4 349.1 L360.6 347.2 L360.8 345.2 L361.0 343.3 L361.2 341.3 L361.4 339.3 L361.6 337.4 L361.8 335.4 L362.0 333.5 L362.2 331.5 L362.4 329.6 L362.7 327.6 L362.9 325.7 L363.1 323.7 L363.3 321.8 L363.5 319.8 L363.7 317.9 L363.9 316.0 L364.2 314.0 L364.4 312.1 L364.6 310.2 L364.8 308.2 L365.1 306.3 L365.3 304.3 L365.5 302.4 L365.8 300.5 L366.0 298.5 L366.3 296.6 L366.5 294.6 L366.8 292.7 L367.1 290.7 L367.3 288.8 L367.6 286.8 L367.9 284.8 L368.2 282.8 L368.6 280.9 L368.9 278.9 L369.2 276.9 L369.6 274.9 L369.9 272.8 L370.3 270.8 L370.7 268.8 L371.1 266.7 L371.5 264.7 L371.9 262.6 L372.3 260.5 L372.8 258.4 L373.2 256.3 L373.7 254.2 L374.2 252.1 L374.7 249.9 L375.3 247.8 L375.9 245.7 L376.5 243.6 L377.1 241.5 L377.8 239.5 L378.5 237.5 L379.2 235.5 L380.0 233.6 L380.9 231.7 L381.8 229.9 L382.7 228.2 L383.8 226.5 L384.8 224.9 L386.0 223.4 L387.2 222.0 L388.5 220.7 L389.8 219.4 L391.2 218.3 L392.7 217.3 L394.2 216.5 L395.8 215.8 L397.4 215.2 L399.0 214.8 L400.6 214.6 L402.2 214.5 L403.8 214.6 L405.4 214.9 L407.1 215.3 L408.7 215.8 L410.3 216.5 L411.9 217.3 L413.5 218.2 L415.1 219.2 L416.7 220.3 L418.3 221.5 L419.9 222.8 L421.4 224.2 L423.0 225.6 L424.5 227.0 L426.0 228.5 L427.6 230.0 L429.0 231.5 L430.5 233.1 L432.0 234.6 L433.4 236.2 L434.8 237.7 L436.2 239.3 L437.6 240.9 L439.0 242.4 L440.3 244.0 L441.6 245.6 L443.0 247.2 L444.3 248.8 L445.5 250.4 L446.8 252.0 L448.1 253.6 L449.3 255.2 L450.6 256.8 L451.8 258.4 L453.0 260.0 L454.2 261.6 L455.4 263.2 L456.6 264.8 L457.8 266.4 L459.0 268.1 L460.2 269.7 L461.3 271.3 L462.5 272.9 L463.6 274.5 L464.8 276.2 L465.9 277.8 L467.1 279.4 L468.2 281.0 L469.3 282.7 L470.4 284.3 L471.6 285.9 L472.7 287.5 L473.8 289.2 L474.9 290.8 L476.1 292.4 L477.2 294.0 L478.3 295.6 L479.4 297.3 L480.6 298.9 L481.7 300.5 L482.8 302.1 L484.0 303.7 L485.1 305.3 L486.3 306.9 L487.4 308.5 L488.6 310.1 L489.8 311.7 L490.9 313.3 L492.1 314.9 L493.3 316.5 L494.5 318.1 L495.7 319.7 L496.9 321.3 L498.1 322.8 L499.3 324.4 L500.5 326.0 L501.8 327.6 L503.0 329.2 L504.2 330.7 L505.4 332.3 L506.7 333.9 L507.9 335.5 L509.1 337.1 L510.4 338.6 L511.6 340.2 L512.8 341.8 L514.1 343.4 L515.3 345.0 L516.5 346.5 L517.7 348.1 L519.0 349.7 L520.2 351.3 L521.4 352.9 L522.6 354.5 L523.8 356.1 L525.1 357.7 L526.3 359.3 L527.5 360.9 L528.7 362.6 L529.8 364.2 L531.0 365.8 L532.2 367.4 L533.4 369.1 L534.5 370.7 L535.7 372.4 L536.8 374.0 L538.0 375.7 L539.1 377.3 L540.2 379.0 L541.3 380.7 L542.4 382.4 L543.5 384.1 L544.6 385.8 L545.7 387.5 L546.7 389.2 L547.8 390.9 L548.8 392.6 L549.8 394.3 L550.8 396.1 L551.8 397.8 L552.8 399.6 L553.8 401.3 L554.8 403.1 L555.7 404.8 L556.7 406.6 L557.6 408.4 L558.5 410.1 L559.4 411.9 L560.3 413.7 L561.2 415.5 L562.0 417.3 L562.9 419.1 L563.7 421.0 L564.5 422.8 L565.3 424.6 L566.1 426.4 L566.9 428.3 L567.6 430.1 L568.4 432.0 L569.1 433.8 L569.8 435.7 L570.5 437.5 L571.2 439.4 L571.8 441.3 L572.5 443.2 L573.1 445.0 L573.7 446.9 L574.3 448.8 L574.9 450.7 L575.5 452.6 L576.0 454.5 L576.6 456.4 L577.1 458.4 L577.6 460.3 L578.1 462.2 L578.6 464.1 L579.1 466.1 L579.6 468.0 L580.0 469.9 L580.5 471.9 L580.9 473.8 L581.4 475.8 L581.8 477.7 L582.2 479.6 L582.6 481.6 L583.0 483.6 L583.4 485.5 L583.8 487.5 L584.2 489.4 L584.6 491.4 L584.9 493.4 L585.3 495.3 L585.6 497.3 L586.0 499.3 L586.3 501.3 L586.7 503.2 L587.0 505.2 L587.4 507.2 L587.7 509.2 L588.0 511.1 L588.4 513.1 L588.7 515.1 L589.0 517.1 L589.3 519.0 L589.7 521.0 L590.0 523.0 L590.3 525.0 L590.6 527.0 L591.0 528.9 L591.3 530.9 L591.6 532.9 L591.9 534.9 L592.3 536.9 L592.6 538.8 L592.9 540.8 L593.3 542.8 L593.6 544.8 L594.0 546.7 L594.3 548.7 L594.6 550.7 L595.0 552.6 L595.3 554.6 L595.7 556.6 L596.0 558.5 L596.4 560.5 L596.7 562.5 L597.1 564.5 L597.4 566.4 L597.8 568.4 L598.1 570.4 L598.4 572.3 L598.8 574.3 L599.1 576.3 L599.5 578.2 L599.8 580.2 L600.1 582.2 L600.5 584.1 L600.8 586.1 L601.1 588.1 L601.4 590.0 L601.8 592.0 L602.1 594.0 L602.4 596.0 L602.7 597.9 L603.0 599.9 L603.3 601.9 L603.6 603.8 L603.9 605.8 L604.2 607.8 L604.5 609.8 L604.7 611.7 L605.0 613.7 L605.3 615.7 L605.6 617.7 L605.8 619.6 L606.1 621.6 L606.4 623.6 L606.6 625.6 L606.9 627.6 L607.1 629.5 L607.4 631.5 L607.6 633.5 L607.9 635.5 L608.1 637.5 L608.3 639.4 L608.6 641.4 L608.8 643.4 L609.0 645.4 L609.3 647.4 L609.5 649.4 L609.7 651.3 L609.9 653.3 L610.1 655.3 L610.3 657.3 L610.6 659.3 L610.8 661.3 L611.0 663.2 L611.2 665.2 L611.4 667.2 L611.6 669.2 L611.8 671.2 L612.0 673.2 L612.1 675.2 L612.3 677.1 L612.5 679.1 L612.7 681.1 L612.9 683.1 L613.1 685.1 L613.2 687.1 L613.4 689.1 L613.6 691.1 L613.8 693.1 L613.9 695.0 L614.1 697.0 L614.3 699.0 L614.4 701.0 L614.6 703.0 L614.7 705.0 L614.9 707.0 L615.1 709.0 L615.2 711.0 L615.4 713.0 L615.5 715.0 L615.7 717.0 L615.8 718.9 L616.0 720.9 L616.1 722.9 L616.2 724.9 L616.4 726.9 L616.5 728.9 L616.7 730.9 L616.8 732.9 L616.9 734.9 L617.1 736.9 L617.2 738.9 L617.3 740.9 L617.5 742.9 L617.6 744.9 L617.7 746.9 L617.9 748.9 L618.0 750.9 L618.1 752.9 L618.2 754.9 L618.4 756.8 L618.5 758.8 L618.6 760.8 L618.7 762.8 L618.9 764.8 L619.0 766.8 L619.1 768.8 L619.2 770.8 L619.3 772.8 L619.5 774.8 L619.6 776.8 L619.7 778.8 L619.8 780.8 L619.9 782.8 L620.1 784.8 L620.2 786.8 L620.3 788.8 L620.4 790.8 L620.5 792.8 L620.6 794.8 L620.8 796.8 L620.9 798.8 L621.0 800.8 L621.1 802.8 L621.2 804.8 L621.3 806.8 L621.4 808.8 L621.6 810.8 L621.7 812.8 L621.8 814.8 L621.9 816.8 L622.0 818.8 L622.1 820.8 L622.3 822.8 L622.4 824.7 L622.5 826.7 L622.6 828.7 L622.7 830.7 L622.8 832.7 L623.0 834.7 L623.1 836.7 L623.2 838.7 L623.3 840.7 L623.5 842.7 L623.6 844.7 L623.7 846.7 L623.8 848.7 L623.9 850.7 L624.1 852.7 L624.2 854.7 L624.3 856.7 L624.5 858.7 L624.6 860.7 L624.7 862.7 L624.8 864.7 L625.0 866.7 L625.1 868.7 L625.2 870.7 L625.4 872.7 L625.5 874.7 L625.7 876.6 L625.8 878.6 L625.9 880.6 L626.1 882.6 L626.2 884.6 L626.4 886.6 L626.5 888.6 L626.7 890.6 L626.8 892.6 L627.0 894.6 L627.1 896.6 L627.3 898.6 L627.4 900.6 L627.6 902.6 L627.8 904.5 L627.9 906.5 L628.1 908.5 L628.2 910.5 L628.4 912.5 L628.6 914.5 L628.8 916.5 L628.9 918.5 L629.1 920.5 L629.3 922.5 L629.5 924.4 L629.6 926.4 L629.8 928.4 L630.0 930.4 L630.2 932.4 L630.4 934.4 L630.6 936.4 L630.8 938.4 L631.0 940.4 L631.2 942.3 L631.4 944.3 L631.6 946.3 L631.8 948.3 L632.0 950.3 L632.2 952.3 L632.4 954.2 L632.7 956.2 L632.9 958.2 L633.1 960.2 L633.4 958.2 L633.6 956.2 L633.9 954.2 L634.2 952.2 L634.4 950.2 L634.7 948.3 L634.9 946.3 L635.2 944.3 L635.4 942.3 L635.7 940.3 L635.9 938.3 L636.1 936.3 L636.3 934.3 L636.6 932.3 L636.8 930.3 L637.0 928.3 L637.2 926.3 L637.4 924.4 L637.6 922.4 L637.8 920.4 L638.0 918.4 L638.2 916.4 L638.4 914.4 L638.6 912.4 L638.8 910.4 L638.9 908.4 L639.1 906.4 L639.3 904.4 L639.4 902.5 L639.6 900.5 L639.8 898.5 L639.9 896.5 L640.1 894.5 L640.2 892.5 L640.4 890.5 L640.5 888.5 L640.7 886.5 L640.8 884.5 L641.0 882.5 L641.1 880.5 L641.2 878.6 L641.4 876.6 L641.5 874.6 L641.6 872.6 L641.8 870.6 L641.9 868.6 L642.0 866.6 L642.1 864.6 L642.2 862.6 L642.3 860.6 L642.5 858.6 L642.6 856.6 L642.7 854.6 L642.8 852.7 L642.9 850.7 L643.0 848.7 L643.1 846.7 L643.2 844.7 L643.3 842.7 L643.4 840.7 L643.5 838.7 L643.6 836.7 L643.7 834.7 L643.8 832.7 L643.8 830.7 L643.9 828.7 L644.0 826.7 L644.1 824.7 L644.2 822.8 L644.3 820.8 L644.4 818.8 L644.4 816.8 L644.5 814.8 L644.6 812.8 L644.7 810.8 L644.8 808.8 L644.9 806.8 L644.9 804.8 L645.0 802.8 L645.1 800.8 L645.2 798.8 L645.2 796.8 L645.3 794.8 L645.4 792.8 L645.5 790.9 L645.5 788.9 L645.6 786.9 L645.7 784.9 L645.8 782.9 L645.8 780.9 L645.9 778.9 L646.0 776.9 L646.1 774.9 L646.2 772.9 L646.2 770.9 L646.3 768.9 L646.4 766.9 L646.5 764.9 L646.5 762.9 L646.6 760.9 L646.7 758.9 L646.8 756.9 L646.9 754.9 L646.9 752.9 L647.0 750.9 L647.1 748.9 L647.2 746.9 L647.3 744.9 L647.4 742.9 L647.5 741.0 L647.5 739.0 L647.6 737.0 L647.7 735.0 L647.8 733.0 L647.9 731.0 L648.0 729.0 L648.1 727.0 L648.2 725.0 L648.3 723.0 L648.4 721.0 L648.5 719.0 L648.6 717.0 L648.7 715.0 L648.8 713.0 L649.0 711.0 L649.1 709.0 L649.2 707.0 L649.3 705.0 L649.4 703.0 L649.5 701.0 L649.7 699.0 L649.8 697.0 L649.9 695.0 L650.0 693.0 L650.2 691.0 L650.3 689.0 L650.4 687.0 L650.6 685.0 L650.7 683.0 L650.9 681.0 L651.0 679.0 L651.2 677.0 L651.3 675.0 L651.5 673.0 L651.6 671.0 L651.8 669.0 L651.9 667.0 L652.1 665.0 L652.2 663.0 L652.4 661.0 L652.5 659.0 L652.7 657.0 L652.9 655.0 L653.0 653.0 L653.2 651.0 L653.4 649.0 L653.5 647.0 L653.7 645.0 L653.9 643.0 L654.0 641.0 L654.2 639.0 L654.4 637.0 L654.6 635.0 L654.7 633.0 L654.9 631.0 L655.1 629.0 L655.3 627.0 L655.4 625.0 L655.6 623.0 L655.8 621.0 L656.0 619.0 L656.2 617.0 L656.4 615.0 L656.5 613.0 L656.7 611.0 L656.9 609.0 L657.1 607.0 L657.3 605.0 L657.5 603.0 L657.7 601.0 L657.9 599.0 L658.0 597.0 L658.2 595.0 L658.4 593.0 L658.6 591.0 L658.8 589.0 L659.0 587.0 L659.2 585.0 L659.4 583.0 L659.6 581.0 L659.8 579.0 L660.0 577.1 L660.1 575.1 L660.3 573.1 L660.5 571.1 L660.7 569.1 L660.9 567.1 L661.1 565.1 L661.3 563.1 L661.5 561.1 L661.7 559.1 L661.9 557.1 L662.1 555.1 L662.3 553.2 L662.5 551.2 L662.6 549.2 L662.8 547.2 L663.0 545.2 L663.2 543.2 L663.4 541.2 L663.6 539.2 L663.8 537.3 L664.0 535.3 L664.2 533.3 L664.3 531.3 L664.5 529.3 L664.7 527.3 L664.9 525.4 L665.1 523.4 L665.3 521.4 L665.5 519.4 L665.6 517.4 L665.8 515.4 L666.0 513.5 L666.2 511.5 L666.4 509.5 L666.6 507.5 L666.8 505.5 L667.0 503.6 L667.1 501.6 L667.3 499.6 L667.5 497.6 L667.7 495.7 L667.9 493.7 L668.1 491.7 L668.3 489.7 L668.5 487.7 L668.7 485.8 L668.9 483.8 L669.1 481.8 L669.3 479.8 L669.5 477.9 L669.7 475.9 L669.9 473.9 L670.1 471.9 L670.3 470.0 L670.5 468.0 L670.7 466.0 L670.9 464.1 L671.2 462.1 L671.4 460.1 L671.6 458.1 L671.8 456.2 L672.0 454.2 L672.3 452.2 L672.5 450.2 L672.7 448.3 L673.0 446.3 L673.2 444.3 L673.4 442.4 L673.7 440.4 L673.9 438.4 L674.2 436.4 L674.4 434.5 L674.7 432.5 L674.9 430.5 L675.2 428.5 L675.5 426.6 L675.7 424.6 L676.0 422.6 L676.3 420.7 L676.6 418.7 L676.9 416.7 L677.1 414.7 L677.4 412.8 L677.7 410.8 L678.0 408.8 L678.3 406.9 L678.6 404.9 L679.0 402.9 L679.3 400.9 L679.6 399.0 L679.9 397.0 L680.2 395.0 L680.6 393.0 L680.9 391.1 L681.3 389.1 L681.6 387.1 L682.0 385.2 L682.3 383.2 L682.7 381.2 L683.0 379.2 L683.4 377.3 L683.8 375.3 L684.2 373.3 L684.6 371.3 L685.0 369.4 L685.4 367.4 L685.8 365.4 L686.2 363.4 L686.6 361.5 L687.0 359.5 L687.5 357.5 L687.9 355.5 L688.3 353.5 L688.8 351.6 L689.2 349.6 L689.7 347.6 L690.2 345.6 L690.6 343.7 L691.1 341.7 L691.6 339.7 L692.1 337.7 L692.6 335.7 L693.1 333.8 L693.6 331.8 L694.1 329.8 L694.6 327.8 L695.2 325.8 L695.7 323.8 L696.3 321.9 L696.8 319.9 L697.4 317.9 L698.0 315.9 L698.5 313.9 L699.1 311.9 L699.7 310.0 L700.3 308.0 L700.9 306.0 L701.6 304.1 L702.2 302.1 L702.9 300.2 L703.6 298.2 L704.3 296.3 L705.0 294.4 L705.7 292.5 L706.5 290.7 L707.3 288.9 L708.1 287.0 L708.9 285.2 L709.8 283.5 L710.7 281.7 L711.6 280.0 L712.6 278.4 L713.6 276.7 L714.6 275.1 L715.7 273.5 L716.8 272.0 L717.9 270.5 L719.1 269.1 L720.3 267.6 L721.6 266.3 L722.9 265.0 L724.2 263.7 L725.6 262.5 L727.0 261.3 L728.5 260.2 L730.1 259.1 L731.6 258.1 L733.3 257.1 L735.0 256.2 L736.7 255.4 L738.5 254.6 L740.4 253.9 L742.3 253.3 L744.2 252.7 L746.2 252.2 L748.2 251.7 L750.3 251.3 L752.3 251.0 L754.4 250.7 L756.5 250.5 L758.6 250.4 L760.8 250.3 L762.9 250.2 L765.0 250.3 L767.1 250.3 L769.2 250.5 L771.3 250.7 L773.3 250.9 L775.4 251.2 L777.4 251.6 L779.4 252.0 L781.3 252.5 L783.3 253.0 L785.2 253.5 L787.1 254.1 L788.9 254.8 L790.8 255.4 L792.6 256.2 L794.5 256.9 L796.3 257.7 L798.1 258.5 L799.9 259.3 L801.6 260.2 L803.4 261.1 L805.2 262.0 L806.9 262.9 L808.7 263.8 L810.4 264.8 L812.1 265.7 L813.9 266.7 L815.6 267.7 L817.3 268.7 L819.1 269.7 L820.8 270.6 L822.5 271.6 L824.3 272.6 L826.0 273.6 L827.8 274.6 L829.5 275.5 L831.3 276.5 L833.0 277.5 L834.8 278.4 L836.5 279.4 L838.3 280.3 L840.1 281.3 L841.8 282.3 L843.6 283.2 L845.4 284.2 L847.1 285.1 L848.9 286.1 L850.7 287.0 L852.5 288.0 L854.2 288.9 L856.0 289.8 L857.8 290.8 L859.6 291.7 L861.4 292.6 L863.2 293.6 L864.9 294.5 L866.7 295.4 L868.5 296.4 L870.3 297.3 L872.1 298.2 L873.9 299.1 L875.6 300.0 L877.4 301.0 L879.2 301.9 L881.0 302.8 L882.8 303.7 L884.6 304.6 L886.3 305.5 L888.1 306.5 L889.9 307.4 L891.7 308.3 L893.5 309.2 L895.2 310.1 L897.0 311.0 L898.8 311.9 L900.5 312.8 L902.3 313.7 L904.1 314.6 L905.8 315.5 L907.6 316.4 L909.4 317.3 L911.1 318.2 L912.9 319.1 L914.6 319.9 L916.4 320.8 L918.2 321.7 L919.9 322.5 L921.7 323.4 L923.5 324.2 L925.3 325.0 L927.1 325.8 L928.9 326.6 L930.8 327.3 L932.6 328.0 L934.4 328.8 L936.3 329.4 L938.2 330.1 L940.1 330.7 L942.0 331.4 L943.9 331.9 L945.8 332.5 L947.8 333.0 L949.8 333.5 L951.8 334.0 L953.8 334.4 L955.8 334.9 L957.8 335.3 L959.8 335.7 L961.9 336.1 L963.9 336.4 L966.0 336.8 L968.0 337.2 L970.1 337.6 L972.1 337.9 L974.2 338.3 L976.2 338.7 L978.2 339.1 L980.3 339.6 L982.3 340.0 L984.3 340.5 L986.2 341.0 L988.2 341.5 L990.1 342.0 L992.1 342.6 L994.0 343.2 L995.8 343.9 L997.7 344.6 L999.5 345.3 L1001.3 346.1 L1003.0 346.9 L1004.8 347.8 L1006.5 348.7 L1008.2 349.7 L1009.8 350.7 L1011.5 351.7 L1013.1 352.8 L1014.6 353.9 L1016.2 355.0 L1017.7 356.2 L1019.2 357.4 L1020.7 358.7 L1022.2 359.9 L1023.6 361.3 L1025.0 362.6 L1026.4 364.0 L1027.8 365.3 L1029.1 366.8 L1030.5 368.2 L1031.8 369.7 L1033.1 371.2 L1034.3 372.7 L1035.6 374.2 L1036.8 375.8 L1038.0 377.4 L1039.2 379.0 L1040.4 380.6 L1041.5 382.2 L1042.7 383.9 L1043.8 385.6 L1044.9 387.3 L1046.0 389.0 L1047.0 390.7 L1048.1 392.4 L1049.1 394.1 L1050.1 395.9 L1051.1 397.6 L1052.1 399.4 L1053.1 401.1 L1054.0 402.9 L1055.0 404.7 L1055.9 406.5 L1056.8 408.3 L1057.7 410.1 L1058.6 411.9 L1059.5 413.7 L1060.4 415.5 L1061.2 417.3 L1062.1 419.2 L1062.9 421.0 L1063.7 422.8 L1064.5 424.7 L1065.3 426.5 L1066.1 428.4 L1066.9 430.2 L1067.6 432.1 L1068.4 433.9 L1069.1 435.8 L1069.8 437.7 L1070.6 439.5 L1071.3 441.4 L1072.0 443.3 L1072.7 445.2 L1073.4 447.1 L1074.0 449.0 L1074.7 450.9 L1075.4 452.7 L1076.0 454.6 L1076.7 456.6 L1077.3 458.5 L1077.9 460.4 L1078.5 462.3 L1079.2 464.2 L1079.8 466.1 L1080.4 468.0 L1081.0 469.9 L1081.6 471.9 L1082.1 473.8 L1082.7 475.7 L1083.3 477.6 L1083.9 479.6 L1084.4 481.5 L1085.0 483.4 L1085.5 485.3 L1086.1 487.3 L1086.6 489.2 L1087.2 491.1 L1087.7 493.1 L1088.3 495.0 L1088.8 496.9 L1089.3 498.9 L1089.9 500.8 L1090.4 502.7 L1090.9 504.6 L1091.4 506.6 L1092.0 508.5 L1092.5 510.4 L1093.0 512.4 L1093.5 514.3 L1094.0 516.2 L1094.6 518.1 L1095.1 520.1 L1095.6 522.0 L1096.1 523.9 L1096.6 525.8 L1097.2 527.7 L1097.7 529.7 L1098.2 531.6 L1098.7 533.5 L1099.2 535.4 L1099.8 537.3 L1100.3 539.2 L1100.8 541.1 L1101.4 543.0 L1101.9 544.9 L1102.4 546.8 L1103.0 548.7 L1103.5 550.6 L1104.1 552.5 L1104.6 554.3 L1105.2 556.2 L1105.7 558.1 L1106.3 560.0 L1106.8 561.9 L1107.4 563.7 L1107.9 565.6 L1108.5 567.5 L1109.1 569.4 L1109.6 571.3 L1110.2 573.2 L1110.8 575.0 L1111.3 576.9 L1111.9 578.8 L1112.4 580.7 L1113.0 582.6 L1113.6 584.5 L1114.1 586.5 L1114.7 588.4 L1115.3 590.3 L1115.8 592.2 L1116.4 594.2 L1116.9 596.1 L1117.5 598.1 L1118.0 600.0 L1118.6 602.0 L1119.1 604.0 L1119.7 605.9 L1120.2 607.9 L1120.7 609.9 L1121.3 611.9 L1121.8 614.0 L1122.3 616.0 L1122.9 618.0 L1123.4 620.1 L1123.9 622.2 L1124.4 624.3 L1124.9 626.3 L1125.4 628.4 L1126.0 630.5 L1126.5 632.5 L1127.1 634.6 L1127.7 636.6 L1128.3 638.6 L1129.0 640.5 L1129.8 642.4 L1130.5 644.2 L1131.4 646.0 L1132.3 647.7 L1133.2 649.4 L1134.3 650.9 L1135.4 652.4 L1136.6 653.8 L1137.9 655.1 L1139.2 656.3 L1140.7 657.3 L1142.2 658.2 L1143.7 658.9 L1145.3 659.4 L1146.9 659.7 L1148.4 659.7 L1149.9 659.4 L1151.3 658.9 L1152.7 658.1 L1154.0 657.1 L1155.2 655.8 L1156.3 654.4 L1157.3 652.8 L1158.3 651.0 L1159.2 649.1 L1160.1 647.2 L1160.9 645.2 L1161.7 643.1 L1162.5 641.1 L1163.2 639.1 L1164.0 637.0 L1164.7 635.0 L1165.5 633.0 L1166.2 631.1 L1166.9 629.1 L1167.6 627.1 L1168.3 625.1 L1168.9 623.2 L1169.6 621.2 L1170.3 619.3 L1170.9 617.4 L1171.6 615.4 L1172.2 613.5 L1172.8 611.6 L1173.5 609.7 L1174.1 607.8 L1174.7 605.9 L1175.3 604.0 L1175.9 602.1 L1176.5 600.2 L1177.1 598.3 L1177.7 596.4 L1178.3 594.6 L1178.9 592.7 L1179.5 590.8 L1180.1 588.9 L1180.7 587.1 L1181.3 585.2 L1181.9 583.3 L1182.5 581.4 L1183.1 579.6 L1183.7 577.7 L1184.3 575.8 L1184.9 574.0 L1185.5 572.1 L1186.1 570.2 L1186.7 568.3 L1187.4 566.5 L1188.0 564.6 L1188.6 562.7 L1189.2 560.8 L1189.9 558.9 L1190.5 557.0 L1191.2 555.2 L1191.8 553.3 L1192.5 551.4 L1193.2 549.5 L1193.8 547.6 L1194.5 545.7 L1195.2 543.9 L1195.9 542.0 L1196.6 540.1 L1197.3 538.2 L1198.0 536.3 L1198.7 534.5 L1199.4 532.6 L1200.1 530.7 L1200.8 528.8 L1201.5 526.9 L1202.3 525.1 L1203.0 523.2 L1203.7 521.3 L1204.5 519.5 L1205.2 517.6 L1206.0 515.7 L1206.7 513.9 L1207.5 512.0 L1208.3 510.1 L1209.1 508.3 L1209.9 506.4 L1210.6 504.6 L1211.4 502.7 L1212.3 500.9 L1213.1 499.1 L1213.9 497.2 L1214.7 495.4 L1215.5 493.6 L1216.4 491.7 L1217.2 489.9 L1218.0 488.1 L1218.9 486.3 L1219.8 484.5 L1220.6 482.7 L1221.5 480.8 L1222.4 479.0 L1223.3 477.3 L1224.1 475.5 L1225.0 473.7 L1225.9 471.9 L1226.9 470.1 L1227.8 468.4 L1228.7 466.6 L1229.6 464.8 L1230.6 463.1 L1231.5 461.3 L1232.5 459.6 L1233.4 457.9 L1234.4 456.1 L1235.4 454.4 L1236.3 452.7 L1237.3 451.0 L1238.3 449.3 L1239.3 447.6 L1240.4 445.9 L1241.4 444.2 L1242.4 442.5 L1243.5 440.9 L1244.6 439.2 L1245.7 437.6 L1246.8 436.0 L1247.9 434.3 L1249.0 432.7 L1250.2 431.1 L1251.3 429.5 L1252.5 427.9 L1253.7 426.4 L1255.0 424.8 L1256.2 423.3 L1257.5 421.7 L1258.8 420.2 L1260.1 418.7 L1261.5 417.2 L1262.8 415.7 L1264.2 414.3 L1265.7 412.8 L1267.1 411.4 L1268.6 409.9 L1270.1 408.5 L1271.6 407.2 L1273.1 405.8 L1274.7 404.5 L1276.3 403.2 L1277.9 401.9 L1279.5 400.6 L1281.2 399.4 L1282.8 398.2 L1284.5 397.0 L1286.2 395.9 L1288.0 394.8 L1289.7 393.7 L1291.5 392.7 L1293.2 391.7 L1295.0 390.7 L1296.8 389.8 L1298.6 389.0 L1300.5 388.1 L1302.3 387.4 L1304.1 386.6 L1306.0 385.9 L1307.9 385.3 L1309.8 384.7 L1311.7 384.2 L1313.6 383.7 L1315.5 383.3 L1317.4 383.0 L1319.3 382.6 L1321.2 382.4 L1323.2 382.2 L1325.1 382.1 L1327.0 382.0 L1329.0 382.1 L1330.9 382.1 L1332.9 382.3 L1334.8 382.4 L1336.8 382.7 L1338.7 383.0 L1340.7 383.4 L1342.6 383.8 L1344.5 384.2 L1346.5 384.8 L1348.4 385.3 L1350.3 385.9 L1352.2 386.6 L1354.1 387.3 L1356.0 388.1 L1357.9 388.9 L1359.7 389.7 L1361.6 390.6 L1363.4 391.5 L1365.2 392.4 L1367.0 393.4 L1368.8 394.4 L1370.6 395.4 L1372.3 396.5 L1374.0 397.6 L1375.8 398.7 L1377.4 399.9 L1379.1 401.1 L1380.7 402.3 L1382.3 403.5 L1383.9 404.7 L1385.5 406.0 L1387.0 407.3 L1388.6 408.6 L1390.1 409.9 L1391.5 411.3 L1393.0 412.6 L1394.5 414.0 L1395.9 415.4 L1397.3 416.8 L1398.7 418.3 L1400.1 419.7 L1401.4 421.2 L1402.8 422.6 L1404.1 424.1 L1405.4 425.6 L1406.7 427.1 L1408.0 428.6 L1409.2 430.2 L1410.5 431.7 L1411.7 433.3 L1413.0 434.8 L1414.2 436.4 L1415.4 438.0 L1416.6 439.5 L1417.8 441.1 L1418.9 442.7 L1420.1 444.3 L1421.3 445.9 L1422.4 447.6 L1423.5 449.2 L1424.7 450.8 L1425.8 452.5 L1426.9 454.1 L1428.0 455.8 L1429.1 457.4 L1430.1 459.1 L1431.2 460.8 L1432.3 462.5 L1433.3 464.1 L1434.4 465.8 L1435.4 467.5 L1436.5 469.2 L1437.5 470.9 L1438.5 472.6 L1439.5 474.3 L1440.6 476.1 L1441.6 477.8 L1442.6 479.5 L1443.6 481.2 L1444.6 483.0 L1445.6 484.7 L1446.5 486.5 L1447.5 488.2 L1448.5 490.0 L1449.5 491.7 L1450.5 493.5 L1451.4 495.2 L1452.4 497.0 L1453.4 498.7 L1454.3 500.5 L1455.3 502.3 L1456.3 504.0 L1457.2 505.8 L1458.2 507.6 L1459.2 509.3 L1460.1 511.1 L1461.1 512.9 L1462.1 514.6 L1463.0 516.4 L1464.0 518.2 L1465.0 519.9 L1465.9 521.7 L1466.9 523.5 L1467.9 525.2 L1468.9 527.0 L1469.8 528.8 L1470.8 530.6 L1471.8 532.3 L1472.8 534.1 L1473.8 535.8 L1474.8 537.6 L1475.8 539.3 L1476.8 541.1 L1477.9 542.8 L1478.9 544.5 L1480.0 546.2 L1481.1 547.9 L1482.2 549.6 L1483.3 551.2 L1484.4 552.9 L1485.6 554.5 L1486.8 556.0 L1488.0 557.6 L1489.3 559.1 L1490.6 560.5 L1491.9 562.0 L1493.2 563.4 L1494.6 564.8 L1496.1 566.1 L1497.5 567.3 L1499.1 568.6 L1500.6 569.8 L1502.2 570.9 L1503.9 572.0 L1505.6 573.0 L1507.4 574.0 L1509.2 574.9 L1511.1 575.7 L1513.0 576.5" stroke="#46eb3e" stroke-width="11.9"/>
<path d="M210.9 201.8 L208.9 201.7 L207.0 201.6 L205.1 201.6 L203.2 201.5" stroke="#000" stroke-width="12.9" stroke-dasharray="12.00 25.00" stroke-dashoffset="6.00"/>
<path d="M210.9 201.8 L212.9 201.9 L214.8 202.0 L216.8 202.2 L218.8 202.3 L220.8 202.5 L222.8 202.7 L224.9 203.0 L226.9 203.2 L228.9 203.5 L230.9 203.8 L233.0 204.2 L235.0 204.5 L237.0 204.9 L239.0 205.3 L241.0 205.8 L243.0 206.3 L244.9 206.8 L246.9 207.4 L248.8 208.0 L250.8 208.6" stroke="#000" stroke-width="12.9" stroke-dasharray="13.16 27.41" stroke-dashoffset="6.58"/>
<path d="M250.8 208.6 L252.7 209.3 L254.5 210.0 L256.4 210.7 L258.2 211.5 L260.0 212.4 L261.8 213.2 L263.5 214.2 L265.3 215.1 L266.9 216.1 L268.6 217.2 L270.2 218.3 L271.7 219.5 L273.3 220.7 L274.7 222.0 L276.2 223.3 L277.6 224.6 L279.0 226.0 L280.3 227.5" stroke="#000" stroke-width="12.9" stroke-dasharray="11.50 23.96" stroke-dashoffset="5.75"/>
<path d="M280.3 227.5 L281.6 229.0 L282.8 230.5 L284.1 232.0 L285.3 233.6 L286.4 235.2 L287.6 236.9 L288.7 238.6 L289.7 240.3 L290.8 242.0 L291.8 243.7 L292.8 245.5 L293.7 247.3 L294.7 249.1 L295.6 250.9 L296.5 252.7 L297.3 254.6 L298.2 256.4 L299.0 258.3" stroke="#000" stroke-width="12.9" stroke-dasharray="11.74 24.46" stroke-dashoffset="5.87"/>
<path d="M299.0 258.3 L299.8 260.1 L300.6 262.0 L301.4 263.9 L302.2 265.7 L302.9 267.6 L303.6 269.5 L304.3 271.4 L305.0 273.3 L305.7 275.1 L306.4 277.0 L307.0 278.9 L307.6 280.8 L308.3 282.7 L308.9 284.6 L309.5 286.5 L310.1 288.4 L310.7 290.3 L311.2 292.2 L311.8 294.1" stroke="#000" stroke-width="12.9" stroke-dasharray="12.36 25.74" stroke-dashoffset="6.18"/>
<path d="M311.8 294.1 L312.4 296.1 L312.9 298.0 L313.5 299.9 L314.0 301.8 L314.5 303.7 L315.0 305.7 L315.5 307.6 L316.1 309.5 L316.5 311.4 L317.0 313.4 L317.5 315.3 L318.0 317.2 L318.5 319.2 L318.9 321.1 L319.4 323.0 L319.8 325.0 L320.3 326.9 L320.7 328.8" stroke="#000" stroke-width="12.9" stroke-dasharray="11.62 24.21" stroke-dashoffset="5.81"/>
<path d="M320.7 328.8 L321.1 330.8 L321.6 332.7 L322.0 334.7 L322.4 336.6 L322.8 338.6 L323.2 340.5 L323.6 342.5 L324.0 344.4 L324.4 346.4 L324.8 348.3 L325.1 350.3 L325.5 352.2 L325.9 354.2 L326.2 356.2 L326.6 358.1 L326.9 360.1" stroke="#000" stroke-width="12.9" stroke-dasharray="10.33 21.52" stroke-dashoffset="5.17"/>
<path d="M326.9 360.1 L327.3 362.0 L327.6 364.0 L328.0 366.0 L328.3 367.9 L328.6 369.9 L328.9 371.9 L329.3 373.8 L329.6 375.8 L329.9 377.8 L330.2 379.8 L330.5 381.7 L330.8 383.7 L331.1 385.7 L331.4 387.7 L331.7 389.6 L332.0 391.6 L332.2 393.6 L332.5 395.6 L332.8 397.6 L333.1 399.5" stroke="#000" stroke-width="12.9" stroke-dasharray="12.95 26.98" stroke-dashoffset="6.48"/>
<path d="M333.1 399.5 L333.3 401.5 L333.6 403.5 L333.9 405.5 L334.1 407.5 L334.4 409.5 L334.7 411.4 L334.9 413.4 L335.2 415.4 L335.4 417.4 L335.7 419.4 L335.9 421.4 L336.2 423.4 L336.4 425.4 L336.7 427.3 L336.9 429.3 L337.2 431.3 L337.4 433.3 L337.6 435.3" stroke="#000" stroke-width="12.9" stroke-dasharray="11.70 24.37" stroke-dashoffset="5.85"/>
<path d="M337.6 435.3 L337.9 437.3 L338.1 439.3 L338.4 441.3 L338.6 443.3 L338.8 445.3 L339.1 447.3 L339.3 449.3 L339.5 451.3 L339.8 453.3 L340.0 455.3 L340.2 457.2 L340.5 459.2 L340.7 461.2 L340.9 463.2 L341.2 465.2 L341.4 467.2 L341.7 469.2 L341.9 471.2" stroke="#000" stroke-width="12.9" stroke-dasharray="11.73 24.43" stroke-dashoffset="5.86"/>
<path d="M341.9 471.2 L342.1 473.2 L342.4 475.2 L342.6 477.2 L342.9 479.2 L343.1 481.2 L343.3 483.2 L343.6 485.2 L343.8 487.2 L344.1 489.2 L344.3 491.2 L344.5 493.2 L344.8 495.2 L345.0 497.1 L345.2 499.1 L345.5 501.1 L345.7 503.1 L345.9 505.1 L346.2 507.1 L346.4 509.0" stroke="#000" stroke-width="12.9" stroke-dasharray="12.35 25.73" stroke-dashoffset="6.17"/>
<path d="M346.4 509.0 L346.6 511.0 L346.9 513.0 L347.1 514.9 L347.3 516.9 L347.5 518.9 L347.7 520.8 L347.9 522.8 L348.2 524.8 L348.4 526.7 L348.6 528.7 L348.8 530.6 L349.0 532.5 L349.2 534.5 L349.3 536.4 L349.5 538.3 L349.7 540.3 L349.9 542.2 L350.1 544.1" stroke="#000" stroke-width="12.9" stroke-dasharray="11.44 23.82" stroke-dashoffset="5.72"/>
<path d="M350.1 544.1 L350.2 546.0 L350.4 547.9 L350.6 549.8 L350.8 551.8 L350.9 553.7 L351.1 555.6 L351.3 557.6 L351.6 559.6 L351.8 561.6 L352.1 563.7 L352.4 565.7 L352.7 567.9 L353.1 570.0 L353.5 572.2 L354.0 574.5 L354.5 576.8 L355.0 579.2 L355.6 581.6" stroke="#000" stroke-width="12.9" stroke-dasharray="12.30 25.62" stroke-dashoffset="6.15"/>
<path d="M355.6 581.6 L356.2 583.8 L356.9 585.7 L357.5 587.2 L358.2 588.2 L358.9 588.6 L359.6 588.2 L360.3 587.1 L360.9 585.6 L361.6 583.6 L362.2 581.3 L362.7 578.9 L363.2 576.5 L363.6 574.1 L364.0 571.8" stroke="#000" stroke-width="12.9" stroke-dasharray="8.40 17.50" stroke-dashoffset="4.20"/>
<path d="M364.0 571.8 L364.4 569.6 L364.7 567.4 L364.9 565.2 L365.2 563.1 L365.4 561.0 L365.5 559.0 L365.7 557.0 L365.8 555.1 L365.9 553.1 L366.0 551.2 L366.1 549.3 L366.2 547.4 L366.2 545.6 L366.3 543.7 L366.4 541.8 L366.5 540.0 L366.6 538.1 L366.8 536.2 L366.9 534.4" stroke="#000" stroke-width="12.9" stroke-dasharray="12.19 25.39" stroke-dashoffset="6.09"/>
<path d="M366.9 534.4 L367.1 532.5 L367.3 530.5 L367.6 528.6 L367.8 526.7 L368.1 524.7 L368.4 522.8 L368.7 520.8 L369.0 518.9 L369.3 516.9 L369.6 514.9 L369.9 512.9 L370.2 510.9 L370.5 508.9 L370.8 506.9 L371.1 504.9 L371.4 502.9 L371.7 500.9 L371.9 498.8" stroke="#000" stroke-width="12.9" stroke-dasharray="11.63 24.23" stroke-dashoffset="5.81"/>
<path d="M371.9 498.8 L372.1 496.8 L372.3 494.8 L372.5 492.8 L372.7 490.8 L372.9 488.8 L373.0 486.8 L373.2 484.8 L373.3 482.8 L373.4 480.8 L373.6 478.8 L373.7 476.8 L373.8 474.8 L373.9 472.8 L374.0 470.8 L374.1 468.8 L374.3 466.8 L374.4 464.8 L374.5 462.8" stroke="#000" stroke-width="12.9" stroke-dasharray="11.72 24.41" stroke-dashoffset="5.86"/>
<path d="M374.5 462.8 L374.7 460.8 L374.8 458.8 L375.0 456.8 L375.1 454.9 L375.3 452.9 L375.5 450.9 L375.6 448.9 L375.8 446.9 L376.0 444.9 L376.2 443.0 L376.5 441.0 L376.7 439.0 L376.9 437.0 L377.1 435.0 L377.4 433.1 L377.6 431.1 L377.9 429.1 L378.2 427.1" stroke="#000" stroke-width="12.9" stroke-dasharray="11.63 24.24" stroke-dashoffset="5.82"/>
<path d="M378.2 427.1 L378.4 425.2 L378.7 423.2 L379.0 421.2 L379.3 419.2 L379.6 417.3 L379.9 415.3 L380.2 413.3 L380.5 411.4 L380.8 409.4 L381.1 407.4 L381.4 405.5 L381.8 403.5 L382.1 401.5 L382.5 399.6 L382.8 397.6 L383.2 395.6 L383.5 393.7 L383.9 391.7" stroke="#000" stroke-width="12.9" stroke-dasharray="11.64 24.26" stroke-dashoffset="5.82"/>
<path d="M383.9 391.7 L384.3 389.7 L384.6 387.8 L385.0 385.8 L385.4 383.8 L385.8 381.9 L386.2 379.9 L386.6 378.0 L387.0 376.0 L387.4 374.0 L387.8 372.1 L388.2 370.1 L388.6 368.1 L389.0 366.2 L389.4 364.2 L389.9 362.2 L390.3 360.3 L390.7 358.3 L391.2 356.3 L391.6 354.4" stroke="#000" stroke-width="12.9" stroke-dasharray="12.36 25.75" stroke-dashoffset="6.18"/>
<path d="M391.6 354.4 L392.1 352.4 L392.5 350.5 L393.0 348.5 L393.5 346.5 L394.0 344.6 L394.5 342.7 L395.1 340.8 L395.7 338.9 L396.4 337.0 L397.1 335.1 L397.8 333.3 L398.6 331.5 L399.5 329.7 L400.5 328.0 L401.5 326.2 L402.6 324.6 L403.8 322.9 L405.1 321.3" stroke="#000" stroke-width="12.9" stroke-dasharray="11.70 24.37" stroke-dashoffset="5.85"/>
<path d="M405.1 321.3 L406.4 319.7 L407.9 318.3 L409.4 316.9 L411.0 315.7 L412.7 314.6 L414.4 313.7 L416.2 313.0 L418.1 312.6 L419.9 312.5 L421.9 312.6 L423.8 312.9 L425.8 313.4 L427.7 314.1 L429.7 314.9 L431.6 315.8 L433.5 316.8 L435.4 317.9" stroke="#000" stroke-width="12.9" stroke-dasharray="11.16 23.24" stroke-dashoffset="5.58"/>
<path d="M435.4 317.9 L437.2 319.0 L439.0 320.1 L440.7 321.2 L442.3 322.4 L444.0 323.5 L445.6 324.7 L447.2 325.9 L448.7 327.1 L450.3 328.3 L451.9 329.5 L453.4 330.8 L455.0 332.0 L456.5 333.2 L458.1 334.5 L459.6 335.7 L461.2 337.0 L462.7 338.2 L464.3 339.5 L465.8 340.8" stroke="#000" stroke-width="12.9" stroke-dasharray="12.35 25.73" stroke-dashoffset="6.18"/>
<path d="M465.8 340.8 L467.3 342.0 L468.8 343.3 L470.4 344.6 L471.9 345.9 L473.4 347.2 L474.9 348.5 L476.4 349.8 L477.9 351.1 L479.4 352.4 L480.9 353.8 L482.4 355.1 L483.9 356.4 L485.4 357.8 L486.9 359.1 L488.3 360.5 L489.8 361.8 L491.3 363.2" stroke="#000" stroke-width="12.9" stroke-dasharray="11.01 22.94" stroke-dashoffset="5.50"/>
<path d="M491.3 363.2 L492.7 364.6 L494.2 365.9 L495.6 367.3 L497.0 368.7 L498.5 370.1 L499.9 371.5 L501.3 372.9 L502.7 374.3 L504.2 375.8 L505.6 377.2 L507.0 378.6 L508.3 380.1 L509.7 381.5 L511.1 382.9 L512.5 384.4 L513.8 385.9 L515.2 387.3 L516.6 388.8 L517.9 390.3" stroke="#000" stroke-width="12.9" stroke-dasharray="12.33 25.68" stroke-dashoffset="6.16"/>
<path d="M517.9 390.3 L519.2 391.8 L520.6 393.3 L521.9 394.8 L523.2 396.3 L524.5 397.8 L525.8 399.3 L527.1 400.8 L528.4 402.4 L529.6 403.9 L530.9 405.5 L532.2 407.0 L533.4 408.6 L534.7 410.1 L535.9 411.7 L537.1 413.3 L538.3 414.9 L539.5 416.4 L540.7 418.0 L541.9 419.6" stroke="#000" stroke-width="12.9" stroke-dasharray="12.31 25.64" stroke-dashoffset="6.15"/>
<path d="M541.9 419.6 L543.1 421.2 L544.3 422.9 L545.4 424.5 L546.6 426.1 L547.7 427.8 L548.9 429.4 L550.0 431.0 L551.1 432.7 L552.2 434.4 L553.3 436.0 L554.4 437.7 L555.5 439.4 L556.5 441.1 L557.6 442.8 L558.6 444.5 L559.7 446.2 L560.7 447.9 L561.7 449.6" stroke="#000" stroke-width="12.9" stroke-dasharray="11.65 24.27" stroke-dashoffset="5.83"/>
<path d="M561.7 449.6 L562.7 451.4 L563.7 453.1 L564.7 454.8 L565.6 456.6 L566.6 458.3 L567.5 460.1 L568.5 461.9 L569.4 463.6 L570.3 465.4 L571.2 467.2 L572.1 469.0 L573.0 470.8 L573.9 472.6 L574.7 474.4 L575.6 476.2 L576.5 478.0 L577.3 479.8 L578.1 481.7 L579.0 483.5" stroke="#000" stroke-width="12.9" stroke-dasharray="12.34 25.70" stroke-dashoffset="6.17"/>
<path d="M579.0 483.5 L579.8 485.3 L580.6 487.2 L581.4 489.0 L582.2 490.8 L583.0 492.7 L583.7 494.5 L584.5 496.4 L585.3 498.2 L586.0 500.1 L586.8 502.0 L587.5 503.8 L588.3 505.7 L589.0 507.6 L589.7 509.4 L590.4 511.3 L591.1 513.2 L591.9 515.0 L592.5 516.9" stroke="#000" stroke-width="12.9" stroke-dasharray="11.71 24.39" stroke-dashoffset="5.85"/>
<path d="M592.5 516.9 L593.2 518.8 L593.9 520.7 L594.6 522.6 L595.3 524.4 L596.0 526.3 L596.6 528.2 L597.3 530.1 L597.9 532.0 L598.6 533.8 L599.2 535.7 L599.9 537.6 L600.5 539.5 L601.2 541.4 L601.8 543.3 L602.4 545.1 L603.0 547.0 L603.7 548.9 L604.3 550.8" stroke="#000" stroke-width="12.9" stroke-dasharray="11.62 24.20" stroke-dashoffset="5.81"/>
<path d="M604.3 550.8 L604.9 552.6 L605.5 554.5 L606.1 556.4 L606.7 558.3 L607.3 560.1 L607.9 562.0 L608.6 563.9 L609.2 565.7 L609.8 567.6 L610.5 569.5 L611.1 571.3 L611.8 573.2 L612.5 575.1 L613.2 577.0 L613.9 578.8 L614.6 580.7 L615.3 582.6 L616.1 584.5" stroke="#000" stroke-width="12.9" stroke-dasharray="11.58 24.13" stroke-dashoffset="5.79"/>
<path d="M616.1 584.5 L616.9 586.3 L617.7 588.2 L618.5 590.1 L619.4 592.0 L620.3 593.9 L621.2 595.8 L622.1 597.7 L623.1 599.6 L624.1 601.5 L625.2 603.4 L626.2 605.3 L627.3 607.2 L628.5 608.9 L629.7 610.5 L630.9 611.8 L632.2 612.8 L633.5 613.3 L634.8 613.3" stroke="#000" stroke-width="12.9" stroke-dasharray="11.54 24.04" stroke-dashoffset="5.77"/>
<path d="M634.8 613.3 L636.2 612.8 L637.6 611.8 L639.0 610.5 L640.4 608.8 L641.7 607.0 L642.9 605.0 L644.0 602.9 L645.1 600.8 L646.0 598.8 L646.8 596.8 L647.5 594.8 L648.2 592.8 L648.8 590.8 L649.3 588.9 L649.8 586.9 L650.2 585.0 L650.6 583.1 L651.0 581.1" stroke="#000" stroke-width="12.9" stroke-dasharray="12.05 25.10" stroke-dashoffset="6.02"/>
<path d="M651.0 581.1 L651.4 579.2 L651.8 577.3 L652.3 575.4 L652.7 573.4 L653.1 571.5 L653.5 569.6 L653.9 567.6 L654.3 565.7 L654.7 563.8 L655.1 561.8 L655.5 559.9 L655.9 558.0 L656.3 556.0 L656.8 554.1 L657.2 552.1 L657.6 550.2 L658.0 548.3 L658.4 546.3 L658.8 544.4" stroke="#000" stroke-width="12.9" stroke-dasharray="12.19 25.39" stroke-dashoffset="6.09"/>
<path d="M658.8 544.4 L659.2 542.4 L659.7 540.5 L660.1 538.6 L660.5 536.6 L660.9 534.7 L661.3 532.7 L661.7 530.8 L662.2 528.8 L662.6 526.9 L663.0 525.0 L663.4 523.0 L663.9 521.1 L664.3 519.1 L664.7 517.2 L665.1 515.2 L665.5 513.3 L666.0 511.3 L666.4 509.4" stroke="#000" stroke-width="12.9" stroke-dasharray="11.62 24.21" stroke-dashoffset="5.81"/>
<path d="M666.4 509.4 L666.8 507.4 L667.2 505.5 L667.7 503.5 L668.1 501.6 L668.5 499.6 L669.0 497.7 L669.4 495.7 L669.8 493.7 L670.2 491.8 L670.7 489.8 L671.1 487.9 L671.5 485.9 L671.9 484.0 L672.4 482.0 L672.8 480.0 L673.2 478.1 L673.7 476.1 L674.1 474.1" stroke="#000" stroke-width="12.9" stroke-dasharray="11.69 24.36" stroke-dashoffset="5.85"/>
<path d="M674.1 474.1 L674.5 472.2 L675.0 470.2 L675.4 468.3 L675.8 466.3 L676.2 464.3 L676.7 462.4 L677.1 460.4 L677.5 458.4 L678.0 456.5 L678.4 454.5 L678.9 452.5 L679.3 450.6 L679.8 448.6 L680.2 446.7 L680.6 444.7 L681.1 442.7 L681.6 440.8 L682.0 438.8" stroke="#000" stroke-width="12.9" stroke-dasharray="11.74 24.47" stroke-dashoffset="5.87"/>
<path d="M682.0 438.8 L682.5 436.9 L682.9 434.9 L683.4 432.9 L683.9 431.0 L684.3 429.0 L684.8 427.1 L685.3 425.2 L685.8 423.2 L686.3 421.3 L686.8 419.3 L687.3 417.4 L687.8 415.5 L688.3 413.5 L688.8 411.6 L689.3 409.7 L689.8 407.7 L690.3 405.8 L690.9 403.9" stroke="#000" stroke-width="12.9" stroke-dasharray="11.68 24.34" stroke-dashoffset="5.84"/>
<path d="M690.9 403.9 L691.4 402.0 L692.0 400.1 L692.5 398.2 L693.1 396.3 L693.6 394.4 L694.2 392.5 L694.8 390.6 L695.3 388.7 L695.9 386.8 L696.5 384.9 L697.1 383.0 L697.7 381.2 L698.4 379.3 L699.0 377.4 L699.6 375.6 L700.3 373.7 L700.9 371.9 L701.6 370.0 L702.2 368.2 L702.9 366.4" stroke="#000" stroke-width="12.9" stroke-dasharray="12.78 26.63" stroke-dashoffset="6.39"/>
<path d="M702.9 366.4 L703.6 364.5 L704.3 362.7 L705.0 360.9 L705.7 359.1 L706.4 357.3 L707.2 355.5 L708.0 353.7 L708.8 351.9 L709.6 350.1 L710.4 348.3 L711.3 346.4 L712.2 344.6 L713.2 342.8 L714.1 341.0 L715.1 339.2 L716.2 337.4 L717.3 335.6 L718.4 333.7" stroke="#000" stroke-width="12.9" stroke-dasharray="11.73 24.45" stroke-dashoffset="5.87"/>
<path d="M718.4 333.7 L719.5 331.9 L720.8 330.1 L722.0 328.3 L723.3 326.6 L724.6 324.9 L726.0 323.3 L727.5 321.8 L728.9 320.3 L730.5 319.0 L732.0 317.8 L733.6 316.6 L735.3 315.7 L737.0 314.8 L738.7 314.0 L740.5 313.3 L742.3 312.7 L744.1 312.2" stroke="#000" stroke-width="12.9" stroke-dasharray="11.20 23.33" stroke-dashoffset="5.60"/>
<path d="M744.1 312.2 L746.0 311.9 L747.8 311.6 L749.7 311.4 L751.7 311.2 L753.6 311.2 L755.5 311.2 L757.5 311.4 L759.4 311.6 L761.4 311.8 L763.4 312.2 L765.3 312.5 L767.3 313.0 L769.3 313.5 L771.2 314.1 L773.2 314.7 L775.1 315.4 L777.0 316.1 L778.9 316.9 L780.8 317.7" stroke="#000" stroke-width="12.9" stroke-dasharray="12.22 25.47" stroke-dashoffset="6.11"/>
<path d="M780.8 317.7 L782.6 318.6 L784.4 319.5 L786.3 320.4 L788.0 321.3 L789.8 322.3 L791.6 323.3 L793.3 324.3 L795.0 325.4 L796.7 326.5 L798.4 327.6 L800.1 328.7 L801.8 329.8 L803.5 330.9 L805.2 332.0 L806.8 333.2 L808.5 334.3 L810.2 335.5 L811.8 336.6" stroke="#000" stroke-width="12.9" stroke-dasharray="11.81 24.60" stroke-dashoffset="5.90"/>
<path d="M811.8 336.6 L813.5 337.7 L815.1 338.8 L816.8 340.0 L818.5 341.1 L820.2 342.1 L821.8 343.2 L823.5 344.3 L825.2 345.3 L827.0 346.3 L828.7 347.3 L830.4 348.2 L832.2 349.1 L834.0 350.0 L835.7 350.8 L837.5 351.6 L839.4 352.4 L841.2 353.1 L843.1 353.8 L845.0 354.4" stroke="#000" stroke-width="12.9" stroke-dasharray="12.26 25.54" stroke-dashoffset="6.13"/>
<path d="M845.0 354.4 L846.9 354.9 L848.9 355.5 L850.8 355.9 L852.8 356.3 L854.8 356.7 L856.8 357.0 L858.8 357.2 L860.8 357.3 L862.9 357.5 L864.9 357.5 L866.9 357.5 L868.9 357.4 L870.9 357.2 L872.9 357.0 L874.9 356.7 L876.8 356.3 L878.8 355.8 L880.7 355.3 L882.6 354.7" stroke="#000" stroke-width="12.9" stroke-dasharray="12.38 25.80" stroke-dashoffset="6.19"/>
<path d="M882.6 354.7 L884.4 354.0 L886.3 353.3 L888.1 352.5 L889.9 351.6 L891.7 350.6 L893.4 349.6 L895.1 348.5 L896.8 347.4 L898.5 346.3 L900.1 345.1 L901.7 343.8 L903.4 342.6 L904.9 341.3 L906.5 339.9 L908.0 338.6 L909.5 337.2 L911.0 335.8 L912.5 334.4" stroke="#000" stroke-width="12.9" stroke-dasharray="11.82 24.63" stroke-dashoffset="5.91"/>
<path d="M912.5 334.4 L914.0 333.0 L915.4 331.6 L916.8 330.2 L918.3 328.8 L919.7 327.3 L921.0 325.9 L922.4 324.5 L923.8 323.0 L925.2 321.6 L926.5 320.2 L927.9 318.8 L929.3 317.4 L930.6 315.9 L932.0 314.5 L933.4 313.1 L934.8 311.8 L936.2 310.4 L937.6 309.0" stroke="#000" stroke-width="12.9" stroke-dasharray="11.59 24.14" stroke-dashoffset="5.79"/>
<path d="M937.6 309.0 L939.1 307.7 L940.5 306.3 L942.0 305.0 L943.5 303.7 L945.0 302.4 L946.6 301.1 L948.1 299.9 L949.7 298.7 L951.3 297.4 L953.0 296.3 L954.7 295.1 L956.4 294.0 L958.2 292.9 L960.0 291.8 L961.8 290.8 L963.6 289.9 L965.4 289.0 L967.3 288.1" stroke="#000" stroke-width="12.9" stroke-dasharray="11.83 24.64" stroke-dashoffset="5.91"/>
<path d="M967.3 288.1 L969.2 287.3 L971.1 286.6 L973.0 286.0 L974.9 285.4 L976.8 284.9 L978.7 284.5 L980.7 284.1 L982.6 283.9 L984.6 283.8 L986.5 283.8 L988.4 283.8 L990.4 284.0 L992.3 284.2 L994.2 284.6 L996.2 285.0 L998.1 285.4 L1000.0 285.9 L1002.0 286.4 L1003.9 287.0" stroke="#000" stroke-width="12.9" stroke-dasharray="12.19 25.39" stroke-dashoffset="6.09"/>
<path d="M1003.9 287.0 L1005.8 287.5 L1007.7 288.1 L1009.7 288.7 L1011.6 289.3 L1013.5 289.9 L1015.4 290.5 L1017.4 291.1 L1019.3 291.7 L1021.2 292.3 L1023.1 292.9 L1025.1 293.5 L1027.0 294.1 L1028.9 294.7 L1030.8 295.3 L1032.8 295.9 L1034.7 296.5 L1036.6 297.0 L1038.5 297.6 L1040.5 298.2" stroke="#000" stroke-width="12.9" stroke-dasharray="12.41 25.86" stroke-dashoffset="6.21"/>
<path d="M1040.5 298.2 L1042.4 298.8 L1044.3 299.3 L1046.3 299.9 L1048.2 300.4 L1050.1 301.0 L1052.1 301.5 L1054.0 302.0 L1056.0 302.5 L1057.9 303.0 L1059.8 303.5 L1061.8 303.9 L1063.7 304.4 L1065.7 304.8 L1067.6 305.2 L1069.6 305.6 L1071.5 305.9 L1073.5 306.3 L1075.5 306.6" stroke="#000" stroke-width="12.9" stroke-dasharray="11.68 24.33" stroke-dashoffset="5.84"/>
<path d="M1075.5 306.6 L1077.4 306.9 L1079.4 307.2 L1081.4 307.5 L1083.3 307.7 L1085.3 307.9 L1087.3 308.1 L1089.2 308.3 L1091.2 308.5 L1093.2 308.6 L1095.2 308.7 L1097.1 308.9 L1099.1 308.9 L1101.1 309.0 L1103.1 309.1 L1105.1 309.1 L1107.1 309.1 L1109.1 309.1 L1111.0 309.1 L1113.0 309.1" stroke="#000" stroke-width="12.9" stroke-dasharray="12.23 25.47" stroke-dashoffset="6.11"/>
<path d="M1113.0 309.1 L1115.0 309.0 L1117.0 309.0 L1119.0 308.9 L1121.0 308.8 L1123.0 308.7 L1125.0 308.6 L1127.0 308.5 L1129.0 308.4 L1131.0 308.2 L1133.0 308.1 L1135.0 307.9 L1137.0 307.7 L1139.0 307.6 L1141.0 307.4 L1143.0 307.2 L1145.0 306.9 L1147.0 306.7 L1149.0 306.5 L1150.9 306.3" stroke="#000" stroke-width="12.9" stroke-dasharray="12.34 25.70" stroke-dashoffset="6.17"/>
<path d="M1150.9 306.3 L1152.9 306.0 L1154.9 305.8 L1156.9 305.5 L1158.9 305.2 L1160.9 305.0 L1162.9 304.7 L1164.9 304.4 L1166.9 304.1 L1168.9 303.8 L1170.9 303.5 L1172.9 303.3 L1174.9 303.0 L1176.8 302.7 L1178.8 302.4 L1180.8 302.0 L1182.8 301.7 L1184.8 301.4" stroke="#000" stroke-width="12.9" stroke-dasharray="11.08 23.09" stroke-dashoffset="5.54"/>
<path d="M1184.8 301.4 L1186.8 301.1 L1188.7 300.8 L1190.7 300.5 L1192.7 300.2 L1194.7 299.9 L1196.6 299.6 L1198.6 299.3 L1200.6 299.0 L1202.5 298.7 L1204.5 298.4 L1206.5 298.0 L1208.4 297.7 L1210.4 297.4 L1212.4 297.1 L1214.3 296.8 L1216.3 296.4 L1218.2 296.1 L1220.2 295.8 L1222.2 295.5 L1224.1 295.1" stroke="#000" stroke-width="12.9" stroke-dasharray="12.93 26.93" stroke-dashoffset="6.46"/>
<path d="M1224.1 295.1 L1226.1 294.8 L1228.0 294.5 L1230.0 294.1 L1232.0 293.8 L1233.9 293.5 L1235.9 293.1 L1237.8 292.8 L1239.8 292.4 L1241.7 292.1 L1243.7 291.7 L1245.7 291.3 L1247.6 291.0 L1249.6 290.6 L1251.5 290.2 L1253.5 289.9 L1255.5 289.5 L1257.4 289.1 L1259.4 288.7" stroke="#000" stroke-width="12.9" stroke-dasharray="11.62 24.21" stroke-dashoffset="5.81"/>
<path d="M1259.4 288.7 L1261.3 288.3 L1263.3 287.9 L1265.3 287.5 L1267.2 287.1 L1269.2 286.7 L1271.1 286.3 L1273.1 285.9 L1275.1 285.5 L1277.0 285.1 L1279.0 284.7 L1281.0 284.3 L1282.9 283.9 L1284.9 283.5 L1286.9 283.1 L1288.8 282.7 L1290.8 282.3 L1292.8 281.9 L1294.7 281.5 L1296.7 281.1" stroke="#000" stroke-width="12.9" stroke-dasharray="12.36 25.74" stroke-dashoffset="6.18"/>
<path d="M1296.7 281.1 L1298.7 280.7 L1300.6 280.3 L1302.6 279.9 L1304.6 279.6 L1306.6 279.2 L1308.5 278.8 L1310.5 278.5 L1312.5 278.2 L1314.5 277.8 L1316.4 277.5 L1318.4 277.2 L1320.4 276.9 L1322.4 276.6 L1324.4 276.3 L1326.3 276.0 L1328.3 275.7 L1330.3 275.5 L1332.3 275.2" stroke="#000" stroke-width="12.9" stroke-dasharray="11.70 24.38" stroke-dashoffset="5.85"/>
<path d="M1332.3 275.2 L1334.3 275.0 L1336.3 274.8 L1338.2 274.5 L1340.2 274.3 L1342.2 274.2 L1344.2 274.0 L1346.2 273.8 L1348.2 273.7 L1350.2 273.6 L1352.2 273.5 L1354.2 273.4 L1356.2 273.3 L1358.2 273.3 L1360.1 273.2 L1362.1 273.2 L1364.1 273.2 L1366.1 273.2 L1368.1 273.3 L1370.1 273.3" stroke="#000" stroke-width="12.9" stroke-dasharray="12.30 25.64" stroke-dashoffset="6.15"/>
<path d="M1370.1 273.3 L1372.1 273.4 L1374.1 273.5 L1376.1 273.6 L1378.1 273.8 L1380.1 274.0 L1382.1 274.2 L1384.1 274.4 L1386.1 274.6 L1388.1 274.9 L1390.1 275.2 L1392.1 275.5 L1394.0 275.9 L1396.0 276.3 L1397.9 276.7 L1399.9 277.1 L1401.8 277.6 L1403.7 278.1 L1405.6 278.7 L1407.5 279.3" stroke="#000" stroke-width="12.9" stroke-dasharray="12.31 25.64" stroke-dashoffset="6.15"/>
<path d="M1407.5 279.3 L1409.4 279.9 L1411.2 280.5 L1413.1 281.2 L1414.9 281.9 L1416.8 282.7 L1418.6 283.5 L1420.4 284.3 L1422.2 285.2 L1423.9 286.0 L1425.7 286.9 L1427.5 287.9 L1429.2 288.9 L1430.9 289.9 L1432.6 290.9 L1434.3 291.9 L1436.0 293.0 L1437.7 294.1 L1439.3 295.2" stroke="#000" stroke-width="12.9" stroke-dasharray="11.59 24.14" stroke-dashoffset="5.79"/>
<path d="M1439.3 295.2 L1440.9 296.4 L1442.6 297.6 L1444.2 298.8 L1445.8 300.0 L1447.4 301.2 L1448.9 302.5 L1450.5 303.8 L1452.0 305.1 L1453.6 306.4 L1455.1 307.8 L1456.6 309.1 L1458.1 310.5 L1459.6 311.9 L1461.0 313.3 L1462.5 314.7 L1463.9 316.2 L1465.4 317.6 L1466.8 319.1 L1468.2 320.6" stroke="#000" stroke-width="12.9" stroke-dasharray="12.48 26.00" stroke-dashoffset="6.24"/>
<path d="M1468.2 320.6 L1469.5 322.1 L1470.9 323.6 L1472.3 325.1 L1473.6 326.6 L1475.0 328.2 L1476.3 329.7 L1477.6 331.3 L1478.9 332.8 L1480.1 334.4 L1481.4 336.0 L1482.7 337.5 L1483.9 339.1 L1485.1 340.7 L1486.3 342.3 L1487.5 343.9 L1488.7 345.5 L1489.9 347.1" stroke="#000" stroke-width="12.9" stroke-dasharray="11.12 23.17" stroke-dashoffset="5.56"/>
<path d="M1489.9 347.1 L1491.0 348.7 L1492.2 350.3 L1493.3 351.9 L1494.4 353.5 L1495.5 355.1 L1496.6 356.8 L1497.7 358.4 L1498.7 360.0 L1499.8 361.7 L1500.8 363.3 L1501.8 365.0 L1502.8 366.7 L1503.8 368.4 L1504.7 370.1 L1505.7 371.8 L1506.6 373.5 L1507.5 375.3 L1508.4 377.1 L1509.3 378.8 L1510.2 380.7 L1511.0 382.5 L1511.8 384.3 L1512.7 386.2 L1513.5 388.1 L1514.2 390.0 L1515.0 392.0" stroke="#000" stroke-width="12.9" stroke-dasharray="12.00 25.00" stroke-dashoffset="6.00"/>
</g>
<g stroke="#808080" stroke-width="4.4" fill="none">
<line x1="366.1" y1="33.0" x2="366.1" y2="1038.4"/>
<line x1="528.8" y1="33.0" x2="528.8" y2="1038.4"/>
<line x1="691.6" y1="33.0" x2="691.6" y2="1038.4"/>
<line x1="855.2" y1="33.0" x2="855.2" y2="1038.4"/>
<line x1="1018.2" y1="33.0" x2="1018.2" y2="38.6"/>
<line x1="1018.2" y1="266.6" x2="1018.2" y2="1038.4"/>
<line x1="1181.5" y1="33.0" x2="1181.5" y2="38.6"/>
<line x1="1181.5" y1="266.6" x2="1181.5" y2="1038.4"/>
<line x1="1344.1" y1="33.0" x2="1344.1" y2="38.6"/>
<line x1="1344.1" y1="266.6" x2="1344.1" y2="1038.4"/>
<line x1="201.8" y1="199.6" x2="876.5" y2="199.6"/>
<line x1="1493.6" y1="199.6" x2="1507.8" y2="199.6"/>
<line x1="201.8" y1="367.3" x2="1507.8" y2="367.3"/>
<line x1="201.8" y1="535.5" x2="1507.8" y2="535.5"/>
<line x1="201.8" y1="702.9" x2="1507.8" y2="702.9"/>
<line x1="201.8" y1="870.6" x2="1507.8" y2="870.6"/>
</g>
<line x1="203.30" y1="370" x2="1507.8" y2="370" stroke="#000" stroke-width="6.7" stroke-linecap="round" stroke-dasharray="8.600 10.117" stroke-dashoffset="5.617"/>
<g stroke="#000" stroke-width="5.0" fill="none">
<line x1="201.8" y1="33.0" x2="224.2" y2="33.0"/>
<line x1="201.8" y1="116.3" x2="213.6" y2="116.3"/>
<line x1="201.8" y1="199.6" x2="224.2" y2="199.6"/>
<line x1="201.8" y1="283.4" x2="213.6" y2="283.4"/>
<line x1="201.8" y1="367.3" x2="224.2" y2="367.3"/>
<line x1="201.8" y1="451.4" x2="213.6" y2="451.4"/>
<line x1="201.8" y1="535.5" x2="224.2" y2="535.5"/>
<line x1="201.8" y1="619.2" x2="213.6" y2="619.2"/>
<line x1="201.8" y1="702.9" x2="224.2" y2="702.9"/>
<line x1="201.8" y1="786.8" x2="213.6" y2="786.8"/>
<line x1="201.8" y1="870.6" x2="224.2" y2="870.6"/>
<line x1="201.8" y1="954.5" x2="213.6" y2="954.5"/>
<line x1="201.8" y1="1038.4" x2="224.2" y2="1038.4"/>
<line x1="201.8" y1="1038.4" x2="201.8" y2="1017.0"/>
<line x1="284.0" y1="1038.4" x2="284.0" y2="1027.0"/>
<line x1="366.1" y1="1038.4" x2="366.1" y2="1017.0"/>
<line x1="447.4" y1="1038.4" x2="447.4" y2="1027.0"/>
<line x1="528.8" y1="1038.4" x2="528.8" y2="1017.0"/>
<line x1="610.2" y1="1038.4" x2="610.2" y2="1027.0"/>
<line x1="691.6" y1="1038.4" x2="691.6" y2="1017.0"/>
<line x1="773.4" y1="1038.4" x2="773.4" y2="1027.0"/>
<line x1="855.2" y1="1038.4" x2="855.2" y2="1017.0"/>
<line x1="936.7" y1="1038.4" x2="936.7" y2="1027.0"/>
<line x1="1018.2" y1="1038.4" x2="1018.2" y2="1017.0"/>
<line x1="1099.8" y1="1038.4" x2="1099.8" y2="1027.0"/>
<line x1="1181.5" y1="1038.4" x2="1181.5" y2="1017.0"/>
<line x1="1262.8" y1="1038.4" x2="1262.8" y2="1027.0"/>
<line x1="1344.1" y1="1038.4" x2="1344.1" y2="1017.0"/>
<line x1="1425.9" y1="1038.4" x2="1425.9" y2="1027.0"/>
<line x1="1507.8" y1="1038.4" x2="1507.8" y2="1017.0"/>
</g>
<rect x="201.8" y="33.0" width="1306.0" height="1005.4" fill="none" stroke="#000" stroke-width="5.3"/>
<g fill="none" stroke-linecap="round">
<line x1="888.7" y1="77.8" x2="1072" y2="77.8" stroke="#000" stroke-width="14" stroke-dasharray="14 28"/>
<line x1="890.5" y1="149.4" x2="1100.6" y2="149.4" stroke="#46eb3e" stroke-width="12"/>
<line x1="890.3" y1="222.3" x2="1079" y2="222.3" stroke="#ff00ff" stroke-width="12.5" stroke-dasharray="37.5 37.5 0.01 37.5"/>
</g>
<text y="99.7" font-size="58"><tspan x="1128.6">W</tspan><tspan x="1186.2" dy="10.2" font-size="43">2</tspan><tspan x="1222.9 1256 1272.0 1304.0 1320.8 1350 1366.2 1412.6" dy="-10.2" font-size="58">= 0.9 mm</tspan></text>
<text y="171.7" font-size="58"><tspan x="1128.6">W</tspan><tspan x="1186.2" dy="10.2" font-size="43">2</tspan><tspan x="1222.9 1256 1272.0 1304.0 1320.8 1350 1366.2 1412.6" dy="-10.2" font-size="58">= 0.7 mm</tspan></text>
<text y="244.5" font-size="58"><tspan x="1128.6">W</tspan><tspan x="1186.2" dy="10.2" font-size="43">2</tspan><tspan x="1222.9 1256 1272.0 1304.0 1320.8 1350 1366.2 1412.6" dy="-10.2" font-size="58">= 0.5 mm</tspan></text>
<text x="163.4" y="55.0" font-size="58.0">0</text>
<text x="144.2 164.6" y="221.6" font-size="58.0">-5</text>
<text x="114.8 137.3 168.8" y="389.3" font-size="58.0">-10</text>
<text x="114.8 137.3 168.8" y="557.5" font-size="58.0">-15</text>
<text x="114.8 137.3 168.8" y="724.9" font-size="58.0">-20</text>
<text x="114.8 137.3 168.8" y="892.6" font-size="58.0">-25</text>
<text x="114.8 137.3 168.8" y="1060.4" font-size="58.0">-30</text>
<text x="186.6 220.3" y="1109.7" font-size="58.0">25</text>
<text x="349.7 383.4" y="1109.7" font-size="58.0">30</text>
<text x="512.8 546.5" y="1109.7" font-size="58.0">35</text>
<text x="675.9 709.6" y="1109.7" font-size="58.0">40</text>
<text x="839.0 872.7" y="1109.7" font-size="58.0">45</text>
<text x="1002.1 1035.8" y="1109.7" font-size="58.0">50</text>
<text x="1165.2 1198.9" y="1109.7" font-size="58.0">55</text>
<text x="1328.3 1362.0" y="1109.7" font-size="58.0">60</text>
<text x="1491.4 1525.1" y="1109.7" font-size="58.0">65</text>
<text transform="scale(1.0420,1)" x="584.4 625.0 648.8 680.3 715.5 751.4 782.9 819.6 854.4 889.6 907.7 930.5 982.8 1033.5 1064.4" y="1188.0" font-size="71.0">Frequency (GHz)</text>
<text transform="rotate(-90)" x="-667.3 -652.4" y="77.7" font-size="76.5">|S</text>
<text transform="rotate(-90)" x="-617.0 -590.8" y="100.6" font-size="56.0">11</text>
<text transform="rotate(-90)" x="-560.3" y="68.6" font-size="76.5">|</text>
<text transform="rotate(-90)" x="-528.0 -504.6 -468.4 -419.0" y="68.4" font-size="75.0">(dB)</text>
</g>
</svg>
</figure></main></body></html>
